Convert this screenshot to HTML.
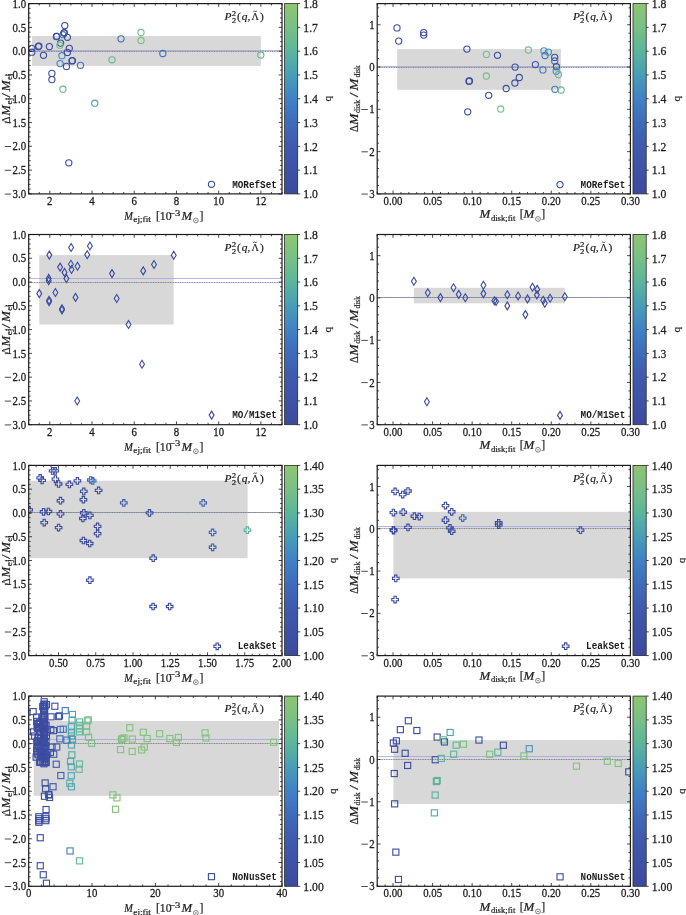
<!DOCTYPE html>
<html><head><meta charset="utf-8"><title>Fit residuals</title>
<style>
html,body{margin:0;padding:0;background:#fff;}
body{width:686px;height:915px;overflow:hidden;font-family:"Liberation Serif",serif;}
svg{display:block;will-change:transform;}
svg text{font-family:"Liberation Serif",serif;fill:#1c1c1c;}
.tl text{font-size:10.8px;stroke:#1c1c1c;stroke-width:0.25px;}
.cl text{font-size:11.7px;}
.ql{font-size:11.2px;stroke:#1c1c1c;stroke-width:0.2px;}
.ti text{font-size:11.4px;stroke:#1c1c1c;stroke-width:0.2px;}
.xl text{font-size:11.8px;stroke:#1c1c1c;stroke-width:0.2px;}
.ti text.sub{font-size:7.4px;text-rendering:geometricPrecision;}
.xl text.sub{font-size:7.8px;}
.yl text{font-size:12.4px;}
.yl text.sub{font-size:8.2px;}
svg text.lg{font-family:"Liberation Mono",monospace;font-weight:bold;font-size:9.6px;}
</style></head><body>
<svg width="686" height="915" viewBox="0 0 686 915">
<defs><linearGradient id="cb" x1="0" y1="1" x2="0" y2="0">
<stop offset="0.0" stop-color="#3c4a9e"/>
<stop offset="0.25" stop-color="#3f5aae"/>
<stop offset="0.375" stop-color="#3f6bbb"/>
<stop offset="0.5" stop-color="#4181c6"/>
<stop offset="0.625" stop-color="#479eb7"/>
<stop offset="0.75" stop-color="#5cb59b"/>
<stop offset="0.875" stop-color="#78c085"/>
<stop offset="1.0" stop-color="#8ec671"/>
</linearGradient>
<clipPath id="c00"><rect x="28.7" y="3.6" width="253.3" height="190.3"/></clipPath>
<clipPath id="c01"><rect x="377.2" y="3.6" width="253.2" height="190.3"/></clipPath>
<clipPath id="c10"><rect x="28.7" y="234.5" width="253.3" height="190.2"/></clipPath>
<clipPath id="c11"><rect x="377.2" y="234.5" width="253.2" height="190.2"/></clipPath>
<clipPath id="c20"><rect x="28.7" y="465.4" width="253.3" height="190.2"/></clipPath>
<clipPath id="c21"><rect x="377.2" y="465.4" width="253.2" height="190.2"/></clipPath>
<clipPath id="c30"><rect x="28.7" y="696.1" width="253.3" height="190.2"/></clipPath>
<clipPath id="c31"><rect x="377.2" y="696.1" width="253.2" height="190.2"/></clipPath>
</defs>
<rect width="686" height="915" fill="#fff"/>
<g id="p00">
<g clip-path="url(#c00)">
<rect x="32.1" y="36.1" width="228.7" height="29.8" fill="#d8d8d8"/>
<line x1="28.7" x2="282.0" y1="50.50" y2="50.50" stroke="#a0a7df" stroke-width="0.8"/>
<line x1="28.7" x2="282.0" y1="51.50" y2="51.50" stroke="#777" stroke-width="0.8" stroke-dasharray="1.2 0.5"/>
<g fill="none" stroke-width="1.12">
<circle cx="31.8" cy="48.4" r="3.1" stroke="#3c4da1"/>
<circle cx="31.8" cy="52.2" r="3.1" stroke="#3c4da1"/>
<circle cx="38.4" cy="46.5" r="3.1" stroke="#3c4da1"/>
<circle cx="38.9" cy="46.1" r="3.1" stroke="#3c4da1"/>
<circle cx="43.5" cy="55.3" r="3.1" stroke="#3c4da1"/>
<circle cx="49.4" cy="46.6" r="3.1" stroke="#3c4da1"/>
<circle cx="51.9" cy="73.4" r="3.1" stroke="#3c4da1"/>
<circle cx="51.9" cy="79.6" r="3.1" stroke="#3c4da1"/>
<circle cx="56.4" cy="36.5" r="3.1" stroke="#3c4da1"/>
<circle cx="56.8" cy="36.3" r="3.1" stroke="#3c4da1"/>
<circle cx="63.1" cy="34.7" r="3.1" stroke="#4181c6"/>
<circle cx="60.6" cy="43.1" r="3.1" stroke="#3c4da1"/>
<circle cx="59.9" cy="45.2" r="3.1" stroke="#72be89"/>
<circle cx="61.9" cy="55.7" r="3.1" stroke="#438dc0"/>
<circle cx="60.1" cy="63.6" r="3.1" stroke="#4181c6"/>
<circle cx="62.9" cy="89.2" r="3.1" stroke="#67b992"/>
<circle cx="64.8" cy="25.6" r="3.1" stroke="#3c4da1"/>
<circle cx="64.0" cy="33.1" r="3.1" stroke="#3c4da1"/>
<circle cx="64.3" cy="32.6" r="3.1" stroke="#3c4da1"/>
<circle cx="67.4" cy="37.3" r="3.1" stroke="#3c4da1"/>
<circle cx="69.3" cy="48.3" r="3.1" stroke="#3c4da1"/>
<circle cx="67.4" cy="52.4" r="3.1" stroke="#3c4da1"/>
<circle cx="66.5" cy="66.4" r="3.1" stroke="#3c4da1"/>
<circle cx="72.0" cy="60.9" r="3.1" stroke="#3c4da1"/>
<circle cx="72.4" cy="60.6" r="3.1" stroke="#3c4da1"/>
<circle cx="80.5" cy="65.3" r="3.1" stroke="#4073bf"/>
<circle cx="94.8" cy="103.2" r="3.1" stroke="#4ba3b1"/>
<circle cx="112.0" cy="59.8" r="3.1" stroke="#67b992"/>
<circle cx="121.0" cy="38.8" r="3.1" stroke="#4073bf"/>
<circle cx="141.0" cy="32.5" r="3.1" stroke="#79c084"/>
<circle cx="141.0" cy="40.5" r="3.1" stroke="#79c084"/>
<circle cx="162.8" cy="53.5" r="3.1" stroke="#4073bf"/>
<circle cx="260.8" cy="55.0" r="3.1" stroke="#67b992"/>
<circle cx="68.8" cy="162.8" r="3.1" stroke="#3d50a4"/>
<circle cx="211.5" cy="184.3" r="3.1" stroke="#3c4ca0"/>
</g></g>
<path d="M28.70 193.9v-1.9M28.70 3.6v1.9M39.25 193.9v-1.9M39.25 3.6v1.9M49.81 193.9v-3.3M49.81 3.6v3.3M60.36 193.9v-1.9M60.36 3.6v1.9M70.92 193.9v-1.9M70.92 3.6v1.9M81.47 193.9v-1.9M81.47 3.6v1.9M92.03 193.9v-3.3M92.03 3.6v3.3M102.58 193.9v-1.9M102.58 3.6v1.9M113.13 193.9v-1.9M113.13 3.6v1.9M123.69 193.9v-1.9M123.69 3.6v1.9M134.24 193.9v-3.3M134.24 3.6v3.3M144.80 193.9v-1.9M144.80 3.6v1.9M155.35 193.9v-1.9M155.35 3.6v1.9M165.90 193.9v-1.9M165.90 3.6v1.9M176.46 193.9v-3.3M176.46 3.6v3.3M187.01 193.9v-1.9M187.01 3.6v1.9M197.57 193.9v-1.9M197.57 3.6v1.9M208.12 193.9v-1.9M208.12 3.6v1.9M218.68 193.9v-3.3M218.68 3.6v3.3M229.23 193.9v-1.9M229.23 3.6v1.9M239.78 193.9v-1.9M239.78 3.6v1.9M250.34 193.9v-1.9M250.34 3.6v1.9M260.89 193.9v-3.3M260.89 3.6v3.3M271.45 193.9v-1.9M271.45 3.6v1.9M282.00 193.9v-1.9M282.00 3.6v1.9M28.7 193.90h3.3M282.0 193.90h-3.3M28.7 189.14h1.9M282.0 189.14h-1.9M28.7 184.39h1.9M282.0 184.39h-1.9M28.7 179.63h1.9M282.0 179.63h-1.9M28.7 174.87h1.9M282.0 174.87h-1.9M28.7 170.11h3.3M282.0 170.11h-3.3M28.7 165.36h1.9M282.0 165.36h-1.9M28.7 160.60h1.9M282.0 160.60h-1.9M28.7 155.84h1.9M282.0 155.84h-1.9M28.7 151.08h1.9M282.0 151.08h-1.9M28.7 146.32h3.3M282.0 146.32h-3.3M28.7 141.57h1.9M282.0 141.57h-1.9M28.7 136.81h1.9M282.0 136.81h-1.9M28.7 132.05h1.9M282.0 132.05h-1.9M28.7 127.30h1.9M282.0 127.30h-1.9M28.7 122.54h3.3M282.0 122.54h-3.3M28.7 117.78h1.9M282.0 117.78h-1.9M28.7 113.02h1.9M282.0 113.02h-1.9M28.7 108.27h1.9M282.0 108.27h-1.9M28.7 103.51h1.9M282.0 103.51h-1.9M28.7 98.75h3.3M282.0 98.75h-3.3M28.7 93.99h1.9M282.0 93.99h-1.9M28.7 89.23h1.9M282.0 89.23h-1.9M28.7 84.48h1.9M282.0 84.48h-1.9M28.7 79.72h1.9M282.0 79.72h-1.9M28.7 74.96h3.3M282.0 74.96h-3.3M28.7 70.20h1.9M282.0 70.20h-1.9M28.7 65.45h1.9M282.0 65.45h-1.9M28.7 60.69h1.9M282.0 60.69h-1.9M28.7 55.93h1.9M282.0 55.93h-1.9M28.7 51.17h3.3M282.0 51.17h-3.3M28.7 46.42h1.9M282.0 46.42h-1.9M28.7 41.66h1.9M282.0 41.66h-1.9M28.7 36.90h1.9M282.0 36.90h-1.9M28.7 32.15h1.9M282.0 32.15h-1.9M28.7 27.39h3.3M282.0 27.39h-3.3M28.7 22.63h1.9M282.0 22.63h-1.9M28.7 17.87h1.9M282.0 17.87h-1.9M28.7 13.12h1.9M282.0 13.12h-1.9M28.7 8.36h1.9M282.0 8.36h-1.9M28.7 3.60h3.3M282.0 3.60h-3.3" stroke="#1c1c1c" stroke-width="0.8" fill="none"/>
<rect x="28.7" y="3.6" width="253.3" height="190.3" fill="none" stroke="#1c1c1c" stroke-width="1.2"/>
<g class="tl">
<text transform="translate(49.8 204.8) scale(1 1.14)" text-anchor="middle">2</text>
<text transform="translate(92.0 204.8) scale(1 1.14)" text-anchor="middle">4</text>
<text transform="translate(134.2 204.8) scale(1 1.14)" text-anchor="middle">6</text>
<text transform="translate(176.5 204.8) scale(1 1.14)" text-anchor="middle">8</text>
<text transform="translate(218.7 204.8) scale(1 1.14)" text-anchor="middle">10</text>
<text transform="translate(260.9 204.8) scale(1 1.14)" text-anchor="middle">12</text>
<text transform="translate(26.1 198.0) scale(1 1.14)" text-anchor="end">3.0</text>
<line x1="4.8" x2="11.2" y1="194.1" y2="194.1" stroke="#1c1c1c" stroke-width="0.8"/>
<text transform="translate(26.1 174.2) scale(1 1.14)" text-anchor="end">2.5</text>
<line x1="4.8" x2="11.2" y1="170.3" y2="170.3" stroke="#1c1c1c" stroke-width="0.8"/>
<text transform="translate(26.1 150.4) scale(1 1.14)" text-anchor="end">2.0</text>
<line x1="4.8" x2="11.2" y1="146.5" y2="146.5" stroke="#1c1c1c" stroke-width="0.8"/>
<text transform="translate(26.1 126.6) scale(1 1.14)" text-anchor="end">1.5</text>
<line x1="4.8" x2="11.2" y1="122.7" y2="122.7" stroke="#1c1c1c" stroke-width="0.8"/>
<text transform="translate(26.1 102.8) scale(1 1.14)" text-anchor="end">1.0</text>
<line x1="4.8" x2="11.2" y1="99.0" y2="99.0" stroke="#1c1c1c" stroke-width="0.8"/>
<text transform="translate(26.1 79.1) scale(1 1.14)" text-anchor="end">0.5</text>
<line x1="4.8" x2="11.2" y1="75.2" y2="75.2" stroke="#1c1c1c" stroke-width="0.8"/>
<text transform="translate(26.1 55.3) scale(1 1.14)" text-anchor="end">0.0</text>
<text transform="translate(26.1 31.5) scale(1 1.14)" text-anchor="end">0.5</text>
<text transform="translate(26.1 7.7) scale(1 1.14)" text-anchor="end">1.0</text>
</g>
<rect x="284.6" y="3.6" width="13.1" height="190.3" fill="url(#cb)" stroke="#2a2a2a" stroke-width="0.8"/>
<g class="tl cl">
<text transform="translate(303.3 198.1) scale(1 1.08)">1.0</text>
<text transform="translate(303.3 174.3) scale(1 1.08)">1.1</text>
<text transform="translate(303.3 150.5) scale(1 1.08)">1.2</text>
<text transform="translate(303.3 126.7) scale(1 1.08)">1.3</text>
<text transform="translate(303.3 103.0) scale(1 1.08)">1.4</text>
<text transform="translate(303.3 79.2) scale(1 1.08)">1.5</text>
<text transform="translate(303.3 55.4) scale(1 1.08)">1.6</text>
<text transform="translate(303.3 31.6) scale(1 1.08)">1.7</text>
<text transform="translate(303.3 7.8) scale(1 1.08)">1.8</text>
</g>
<path d="M297.7 193.90h2.5M297.7 170.11h2.5M297.7 146.33h2.5M297.7 122.54h2.5M297.7 98.75h2.5M297.7 74.96h2.5M297.7 51.17h2.5M297.7 27.39h2.5M297.7 3.60h2.5" stroke="#1c1c1c" stroke-width="0.8" fill="none"/>
<text class="ql" transform="translate(331.0 98.8) rotate(-90)" text-anchor="middle">q</text>
<g class="ti"><text x="224.6" y="19.9" font-style="italic">P</text><text class="sub" x="231.7" y="15.8" textLength="4.4" lengthAdjust="spacingAndGlyphs">2</text><text class="sub" x="231.7" y="22.7" textLength="4.4" lengthAdjust="spacingAndGlyphs">2</text><text x="237.0" y="19.9">(</text><text x="241.8" y="19.9" font-style="italic">q</text><text x="247.4" y="19.9">,</text><text x="251.6" y="19.9" textLength="7.4" lengthAdjust="spacingAndGlyphs">Λ</text><path d="M253.3 11.9q0.9 -1.3 1.8 -0.5t1.8 -0.5" fill="none" stroke="#1c1c1c" stroke-width="0.8"/><text x="260.0" y="19.9">)</text></g>
<text class="lg" transform="translate(276.8 187.6) scale(1 1.2)" text-anchor="end" textLength="44.6" lengthAdjust="spacingAndGlyphs">MORefSet</text>
<g class="xl"><text x="124.3" y="219.9" font-style="italic" textLength="8.6" lengthAdjust="spacingAndGlyphs">M</text><text class="sub" x="133.3" y="222.2" textLength="17.6" lengthAdjust="spacingAndGlyphs">ej;fit</text><text x="155.9" y="219.9">[10</text><text class="sub" x="168.9" y="215.5" textLength="11.4" lengthAdjust="spacingAndGlyphs">−3</text><text x="181.5" y="219.9" font-style="italic" textLength="10.6" lengthAdjust="spacingAndGlyphs">M</text><circle cx="195.9" cy="220.5" r="2.4" fill="none" stroke="#1c1c1c" stroke-width="0.55"/><circle cx="195.9" cy="220.5" r="0.6" fill="#1c1c1c"/><text x="199.5" y="219.9">]</text></g>
<g class="xl yl" transform="translate(10.0 100.0) rotate(-90)"><text x="-23.5" y="0" textLength="7.0" lengthAdjust="spacingAndGlyphs">Δ</text><text x="-15.8" y="0" font-style="italic" textLength="10.6" lengthAdjust="spacingAndGlyphs">M</text><text class="sub" x="-4.5" y="2.4" textLength="6.8" lengthAdjust="spacingAndGlyphs">ej</text><text x="2.6" y="0" textLength="4.6" lengthAdjust="spacingAndGlyphs">/</text><text x="8.8" y="0" font-style="italic" textLength="10.8" lengthAdjust="spacingAndGlyphs">M</text><text class="sub" x="20.0" y="2.4" textLength="6.4" lengthAdjust="spacingAndGlyphs">ej</text></g>
</g>
<g id="p01">
<g clip-path="url(#c01)">
<rect x="397.2" y="49.1" width="163.7" height="40.7" fill="#d8d8d8"/>
<line x1="377.2" x2="630.4" y1="66.50" y2="66.50" stroke="#a0a7df" stroke-width="0.8"/>
<line x1="377.2" x2="630.4" y1="67.50" y2="67.50" stroke="#777" stroke-width="0.8" stroke-dasharray="1.2 0.5"/>
<g fill="none" stroke-width="1.12">
<circle cx="397.0" cy="27.9" r="3.1" stroke="#3c4da1"/>
<circle cx="398.7" cy="41.1" r="3.1" stroke="#3c4da1"/>
<circle cx="423.7" cy="32.6" r="3.1" stroke="#3c4da1"/>
<circle cx="423.7" cy="35.1" r="3.1" stroke="#3c4da1"/>
<circle cx="466.9" cy="49.1" r="3.1" stroke="#3c4da1"/>
<circle cx="486.4" cy="54.4" r="3.1" stroke="#72be89"/>
<circle cx="497.5" cy="55.3" r="3.1" stroke="#3c4da1"/>
<circle cx="469.0" cy="81.2" r="3.1" stroke="#3c4da1"/>
<circle cx="469.4" cy="81.0" r="3.1" stroke="#3c4da1"/>
<circle cx="486.4" cy="76.0" r="3.1" stroke="#72be89"/>
<circle cx="488.7" cy="95.3" r="3.1" stroke="#3c4da1"/>
<circle cx="467.7" cy="111.8" r="3.1" stroke="#3c4da1"/>
<circle cx="500.7" cy="109.0" r="3.1" stroke="#72be89"/>
<circle cx="506.2" cy="88.5" r="3.1" stroke="#3c4da1"/>
<circle cx="515.1" cy="67.1" r="3.1" stroke="#3c4da1"/>
<circle cx="514.9" cy="83.0" r="3.1" stroke="#3c4da1"/>
<circle cx="519.3" cy="77.5" r="3.1" stroke="#3c4da1"/>
<circle cx="528.4" cy="50.0" r="3.1" stroke="#72be89"/>
<circle cx="535.4" cy="64.6" r="3.1" stroke="#3e57ab"/>
<circle cx="542.9" cy="69.9" r="3.1" stroke="#4078c2"/>
<circle cx="543.9" cy="50.8" r="3.1" stroke="#4698ba"/>
<circle cx="545.0" cy="55.5" r="3.1" stroke="#4078c2"/>
<circle cx="548.4" cy="52.1" r="3.1" stroke="#438dc0"/>
<circle cx="554.7" cy="57.4" r="3.1" stroke="#3c4da1"/>
<circle cx="554.7" cy="61.0" r="3.1" stroke="#3f6fbd"/>
<circle cx="556.4" cy="66.7" r="3.1" stroke="#3c4da1"/>
<circle cx="556.2" cy="71.3" r="3.1" stroke="#438dc0"/>
<circle cx="558.5" cy="74.5" r="3.1" stroke="#67b992"/>
<circle cx="554.9" cy="89.3" r="3.1" stroke="#4078c2"/>
<circle cx="561.1" cy="90.0" r="3.1" stroke="#67b992"/>
<circle cx="560.0" cy="184.6" r="3.1" stroke="#3c4ca0"/>
</g></g>
<path d="M377.20 193.9v-1.9M377.20 3.6v1.9M385.11 193.9v-1.9M385.11 3.6v1.9M393.02 193.9v-3.3M393.02 3.6v3.3M400.94 193.9v-1.9M400.94 3.6v1.9M408.85 193.9v-1.9M408.85 3.6v1.9M416.76 193.9v-1.9M416.76 3.6v1.9M424.67 193.9v-1.9M424.67 3.6v1.9M432.59 193.9v-3.3M432.59 3.6v3.3M440.50 193.9v-1.9M440.50 3.6v1.9M448.41 193.9v-1.9M448.41 3.6v1.9M456.32 193.9v-1.9M456.32 3.6v1.9M464.24 193.9v-1.9M464.24 3.6v1.9M472.15 193.9v-3.3M472.15 3.6v3.3M480.06 193.9v-1.9M480.06 3.6v1.9M487.97 193.9v-1.9M487.97 3.6v1.9M495.89 193.9v-1.9M495.89 3.6v1.9M503.80 193.9v-1.9M503.80 3.6v1.9M511.71 193.9v-3.3M511.71 3.6v3.3M519.62 193.9v-1.9M519.62 3.6v1.9M527.54 193.9v-1.9M527.54 3.6v1.9M535.45 193.9v-1.9M535.45 3.6v1.9M543.36 193.9v-1.9M543.36 3.6v1.9M551.27 193.9v-3.3M551.27 3.6v3.3M559.19 193.9v-1.9M559.19 3.6v1.9M567.10 193.9v-1.9M567.10 3.6v1.9M575.01 193.9v-1.9M575.01 3.6v1.9M582.92 193.9v-1.9M582.92 3.6v1.9M590.84 193.9v-3.3M590.84 3.6v3.3M598.75 193.9v-1.9M598.75 3.6v1.9M606.66 193.9v-1.9M606.66 3.6v1.9M614.58 193.9v-1.9M614.58 3.6v1.9M622.49 193.9v-1.9M622.49 3.6v1.9M630.40 193.9v-3.3M630.40 3.6v3.3M377.2 193.90h3.3M630.4 193.90h-3.3M377.2 185.44h1.9M630.4 185.44h-1.9M377.2 176.98h1.9M630.4 176.98h-1.9M377.2 168.53h1.9M630.4 168.53h-1.9M377.2 160.07h1.9M630.4 160.07h-1.9M377.2 151.61h3.3M630.4 151.61h-3.3M377.2 143.15h1.9M630.4 143.15h-1.9M377.2 134.70h1.9M630.4 134.70h-1.9M377.2 126.24h1.9M630.4 126.24h-1.9M377.2 117.78h1.9M630.4 117.78h-1.9M377.2 109.32h3.3M630.4 109.32h-3.3M377.2 100.86h1.9M630.4 100.86h-1.9M377.2 92.41h1.9M630.4 92.41h-1.9M377.2 83.95h1.9M630.4 83.95h-1.9M377.2 75.49h1.9M630.4 75.49h-1.9M377.2 67.03h3.3M630.4 67.03h-3.3M377.2 58.58h1.9M630.4 58.58h-1.9M377.2 50.12h1.9M630.4 50.12h-1.9M377.2 41.66h1.9M630.4 41.66h-1.9M377.2 33.20h1.9M630.4 33.20h-1.9M377.2 24.74h3.3M630.4 24.74h-3.3M377.2 16.29h1.9M630.4 16.29h-1.9M377.2 7.83h1.9M630.4 7.83h-1.9" stroke="#1c1c1c" stroke-width="0.8" fill="none"/>
<rect x="377.2" y="3.6" width="253.2" height="190.3" fill="none" stroke="#1c1c1c" stroke-width="1.2"/>
<g class="tl">
<text transform="translate(393.0 204.8) scale(1 1.14)" text-anchor="middle">0.00</text>
<text transform="translate(432.6 204.8) scale(1 1.14)" text-anchor="middle">0.05</text>
<text transform="translate(472.1 204.8) scale(1 1.14)" text-anchor="middle">0.10</text>
<text transform="translate(511.7 204.8) scale(1 1.14)" text-anchor="middle">0.15</text>
<text transform="translate(551.3 204.8) scale(1 1.14)" text-anchor="middle">0.20</text>
<text transform="translate(590.8 204.8) scale(1 1.14)" text-anchor="middle">0.25</text>
<text transform="translate(630.4 204.8) scale(1 1.14)" text-anchor="middle">0.30</text>
<text transform="translate(374.6 198.0) scale(1 1.14)" text-anchor="end">3</text>
<line x1="361.4" x2="367.8" y1="194.1" y2="194.1" stroke="#1c1c1c" stroke-width="0.8"/>
<text transform="translate(374.6 155.7) scale(1 1.14)" text-anchor="end">2</text>
<line x1="361.4" x2="367.8" y1="151.8" y2="151.8" stroke="#1c1c1c" stroke-width="0.8"/>
<text transform="translate(374.6 113.4) scale(1 1.14)" text-anchor="end">1</text>
<line x1="361.4" x2="367.8" y1="109.5" y2="109.5" stroke="#1c1c1c" stroke-width="0.8"/>
<text transform="translate(374.6 71.1) scale(1 1.14)" text-anchor="end">0</text>
<text transform="translate(374.6 28.8) scale(1 1.14)" text-anchor="end">1</text>
</g>
<rect x="633.0" y="3.6" width="13.2" height="190.3" fill="url(#cb)" stroke="#2a2a2a" stroke-width="0.8"/>
<g class="tl cl">
<text transform="translate(651.8 198.1) scale(1 1.08)">1.0</text>
<text transform="translate(651.8 174.3) scale(1 1.08)">1.1</text>
<text transform="translate(651.8 150.5) scale(1 1.08)">1.2</text>
<text transform="translate(651.8 126.7) scale(1 1.08)">1.3</text>
<text transform="translate(651.8 103.0) scale(1 1.08)">1.4</text>
<text transform="translate(651.8 79.2) scale(1 1.08)">1.5</text>
<text transform="translate(651.8 55.4) scale(1 1.08)">1.6</text>
<text transform="translate(651.8 31.6) scale(1 1.08)">1.7</text>
<text transform="translate(651.8 7.8) scale(1 1.08)">1.8</text>
</g>
<path d="M646.2 193.90h2.5M646.2 170.11h2.5M646.2 146.33h2.5M646.2 122.54h2.5M646.2 98.75h2.5M646.2 74.96h2.5M646.2 51.17h2.5M646.2 27.39h2.5M646.2 3.60h2.5" stroke="#1c1c1c" stroke-width="0.8" fill="none"/>
<text class="ql" transform="translate(679.5 98.8) rotate(-90)" text-anchor="middle">q</text>
<g class="ti"><text x="573.0" y="19.9" font-style="italic">P</text><text class="sub" x="580.1" y="15.8" textLength="4.4" lengthAdjust="spacingAndGlyphs">2</text><text class="sub" x="580.1" y="22.7" textLength="4.4" lengthAdjust="spacingAndGlyphs">2</text><text x="585.4" y="19.9">(</text><text x="590.2" y="19.9" font-style="italic">q</text><text x="595.8" y="19.9">,</text><text x="600.0" y="19.9" textLength="7.4" lengthAdjust="spacingAndGlyphs">Λ</text><path d="M601.7 11.9q0.9 -1.3 1.8 -0.5t1.8 -0.5" fill="none" stroke="#1c1c1c" stroke-width="0.8"/><text x="608.4" y="19.9">)</text></g>
<text class="lg" transform="translate(625.2 187.6) scale(1 1.2)" text-anchor="end" textLength="44.6" lengthAdjust="spacingAndGlyphs">MORefSet</text>
<g class="xl"><text x="479.6" y="218.4" font-style="italic" textLength="10.8" lengthAdjust="spacingAndGlyphs">M</text><text class="sub" x="490.9" y="220.7" textLength="24.4" lengthAdjust="spacingAndGlyphs">disk;fit</text><text x="519.8" y="218.4">[</text><text x="523.4" y="218.4" font-style="italic" textLength="10.8" lengthAdjust="spacingAndGlyphs">M</text><circle cx="538.0" cy="219.0" r="2.4" fill="none" stroke="#1c1c1c" stroke-width="0.55"/><circle cx="538.0" cy="219.0" r="0.6" fill="#1c1c1c"/><text x="541.2" y="218.4">]</text></g>
<g class="xl yl" transform="translate(357.6 98.5) rotate(-90)"><text x="-33.5" y="0" textLength="6.8" lengthAdjust="spacingAndGlyphs">Δ</text><text x="-26.4" y="0" font-style="italic" textLength="11.4" lengthAdjust="spacingAndGlyphs">M</text><text class="sub" x="-14.4" y="2.4" textLength="13.0" lengthAdjust="spacingAndGlyphs">disk</text><text x="1.2" y="0" textLength="4.8" lengthAdjust="spacingAndGlyphs">/</text><text x="8.0" y="0" font-style="italic" textLength="11.8" lengthAdjust="spacingAndGlyphs">M</text><text class="sub" x="21.0" y="2.4" textLength="12.2" lengthAdjust="spacingAndGlyphs">disk</text></g>
</g>
<g id="p10">
<g clip-path="url(#c10)">
<rect x="39.3" y="255.1" width="134.4" height="69.4" fill="#d8d8d8"/>
<line x1="28.7" x2="282.0" y1="278.50" y2="278.50" stroke="#a0a7df" stroke-width="0.8"/>
<line x1="28.7" x2="282.0" y1="282.50" y2="282.50" stroke="#777" stroke-width="0.8" stroke-dasharray="1.2 0.5"/>
<g fill="none" stroke-width="1.12">
<path d="M39.3 289.6l2.45 4.0l-2.45 4.0l-2.45 -4.0z" stroke="#3c4da1"/>
<path d="M49.3 251.1l2.45 4.0l-2.45 4.0l-2.45 -4.0z" stroke="#3c4da1"/>
<path d="M48.7 274.4l2.45 4.0l-2.45 4.0l-2.45 -4.0z" stroke="#3c4da1"/>
<path d="M48.7 276.7l2.45 4.0l-2.45 4.0l-2.45 -4.0z" stroke="#3c4da1"/>
<path d="M49.1 296.2l2.45 4.0l-2.45 4.0l-2.45 -4.0z" stroke="#3c4da1"/>
<path d="M49.1 297.7l2.45 4.0l-2.45 4.0l-2.45 -4.0z" stroke="#3c4da1"/>
<path d="M55.4 288.5l2.45 4.0l-2.45 4.0l-2.45 -4.0z" stroke="#3c4da1"/>
<path d="M60.1 263.1l2.45 4.0l-2.45 4.0l-2.45 -4.0z" stroke="#3c4da1"/>
<path d="M62.0 304.7l2.45 4.0l-2.45 4.0l-2.45 -4.0z" stroke="#3c4da1"/>
<path d="M62.0 306.0l2.45 4.0l-2.45 4.0l-2.45 -4.0z" stroke="#3c4da1"/>
<path d="M64.5 268.4l2.45 4.0l-2.45 4.0l-2.45 -4.0z" stroke="#3c4da1"/>
<path d="M66.4 274.6l2.45 4.0l-2.45 4.0l-2.45 -4.0z" stroke="#3c4da1"/>
<path d="M71.1 243.5l2.45 4.0l-2.45 4.0l-2.45 -4.0z" stroke="#3c4da1"/>
<path d="M70.9 260.2l2.45 4.0l-2.45 4.0l-2.45 -4.0z" stroke="#3f5aae"/>
<path d="M71.5 265.5l2.45 4.0l-2.45 4.0l-2.45 -4.0z" stroke="#3c4da1"/>
<path d="M77.5 262.3l2.45 4.0l-2.45 4.0l-2.45 -4.0z" stroke="#3c4da1"/>
<path d="M75.5 293.4l2.45 4.0l-2.45 4.0l-2.45 -4.0z" stroke="#3c4da1"/>
<path d="M87.2 250.7l2.45 4.0l-2.45 4.0l-2.45 -4.0z" stroke="#3c4da1"/>
<path d="M89.9 242.0l2.45 4.0l-2.45 4.0l-2.45 -4.0z" stroke="#3c4da1"/>
<path d="M112.0 269.6l2.45 4.0l-2.45 4.0l-2.45 -4.0z" stroke="#3c4da1"/>
<path d="M116.7 294.5l2.45 4.0l-2.45 4.0l-2.45 -4.0z" stroke="#3c4da1"/>
<path d="M128.5 320.5l2.45 4.0l-2.45 4.0l-2.45 -4.0z" stroke="#3c4da1"/>
<path d="M143.2 266.9l2.45 4.0l-2.45 4.0l-2.45 -4.0z" stroke="#3c4da1"/>
<path d="M154.0 260.5l2.45 4.0l-2.45 4.0l-2.45 -4.0z" stroke="#3c4da1"/>
<path d="M173.7 251.3l2.45 4.0l-2.45 4.0l-2.45 -4.0z" stroke="#3c4da1"/>
<path d="M142.0 360.2l2.45 4.0l-2.45 4.0l-2.45 -4.0z" stroke="#3c4da1"/>
<path d="M77.2 397.0l2.45 4.0l-2.45 4.0l-2.45 -4.0z" stroke="#3c4da1"/>
<path d="M211.6 411.1l2.45 4.0l-2.45 4.0l-2.45 -4.0z" stroke="#3c4ca0"/>
</g></g>
<path d="M28.70 424.7v-1.9M28.70 234.5v1.9M39.25 424.7v-1.9M39.25 234.5v1.9M49.81 424.7v-3.3M49.81 234.5v3.3M60.36 424.7v-1.9M60.36 234.5v1.9M70.92 424.7v-1.9M70.92 234.5v1.9M81.47 424.7v-1.9M81.47 234.5v1.9M92.03 424.7v-3.3M92.03 234.5v3.3M102.58 424.7v-1.9M102.58 234.5v1.9M113.13 424.7v-1.9M113.13 234.5v1.9M123.69 424.7v-1.9M123.69 234.5v1.9M134.24 424.7v-3.3M134.24 234.5v3.3M144.80 424.7v-1.9M144.80 234.5v1.9M155.35 424.7v-1.9M155.35 234.5v1.9M165.90 424.7v-1.9M165.90 234.5v1.9M176.46 424.7v-3.3M176.46 234.5v3.3M187.01 424.7v-1.9M187.01 234.5v1.9M197.57 424.7v-1.9M197.57 234.5v1.9M208.12 424.7v-1.9M208.12 234.5v1.9M218.68 424.7v-3.3M218.68 234.5v3.3M229.23 424.7v-1.9M229.23 234.5v1.9M239.78 424.7v-1.9M239.78 234.5v1.9M250.34 424.7v-1.9M250.34 234.5v1.9M260.89 424.7v-3.3M260.89 234.5v3.3M271.45 424.7v-1.9M271.45 234.5v1.9M282.00 424.7v-1.9M282.00 234.5v1.9M28.7 424.70h3.3M282.0 424.70h-3.3M28.7 419.94h1.9M282.0 419.94h-1.9M28.7 415.19h1.9M282.0 415.19h-1.9M28.7 410.44h1.9M282.0 410.44h-1.9M28.7 405.68h1.9M282.0 405.68h-1.9M28.7 400.93h3.3M282.0 400.93h-3.3M28.7 396.17h1.9M282.0 396.17h-1.9M28.7 391.42h1.9M282.0 391.42h-1.9M28.7 386.66h1.9M282.0 386.66h-1.9M28.7 381.90h1.9M282.0 381.90h-1.9M28.7 377.15h3.3M282.0 377.15h-3.3M28.7 372.39h1.9M282.0 372.39h-1.9M28.7 367.64h1.9M282.0 367.64h-1.9M28.7 362.88h1.9M282.0 362.88h-1.9M28.7 358.13h1.9M282.0 358.13h-1.9M28.7 353.38h3.3M282.0 353.38h-3.3M28.7 348.62h1.9M282.0 348.62h-1.9M28.7 343.87h1.9M282.0 343.87h-1.9M28.7 339.11h1.9M282.0 339.11h-1.9M28.7 334.36h1.9M282.0 334.36h-1.9M28.7 329.60h3.3M282.0 329.60h-3.3M28.7 324.84h1.9M282.0 324.84h-1.9M28.7 320.09h1.9M282.0 320.09h-1.9M28.7 315.34h1.9M282.0 315.34h-1.9M28.7 310.58h1.9M282.0 310.58h-1.9M28.7 305.82h3.3M282.0 305.82h-3.3M28.7 301.07h1.9M282.0 301.07h-1.9M28.7 296.31h1.9M282.0 296.31h-1.9M28.7 291.56h1.9M282.0 291.56h-1.9M28.7 286.81h1.9M282.0 286.81h-1.9M28.7 282.05h3.3M282.0 282.05h-3.3M28.7 277.29h1.9M282.0 277.29h-1.9M28.7 272.54h1.9M282.0 272.54h-1.9M28.7 267.78h1.9M282.0 267.78h-1.9M28.7 263.03h1.9M282.0 263.03h-1.9M28.7 258.27h3.3M282.0 258.27h-3.3M28.7 253.52h1.9M282.0 253.52h-1.9M28.7 248.76h1.9M282.0 248.76h-1.9M28.7 244.01h1.9M282.0 244.01h-1.9M28.7 239.25h1.9M282.0 239.25h-1.9M28.7 234.50h3.3M282.0 234.50h-3.3" stroke="#1c1c1c" stroke-width="0.8" fill="none"/>
<rect x="28.7" y="234.5" width="253.3" height="190.2" fill="none" stroke="#1c1c1c" stroke-width="1.2"/>
<g class="tl">
<text transform="translate(49.8 435.6) scale(1 1.14)" text-anchor="middle">2</text>
<text transform="translate(92.0 435.6) scale(1 1.14)" text-anchor="middle">4</text>
<text transform="translate(134.2 435.6) scale(1 1.14)" text-anchor="middle">6</text>
<text transform="translate(176.5 435.6) scale(1 1.14)" text-anchor="middle">8</text>
<text transform="translate(218.7 435.6) scale(1 1.14)" text-anchor="middle">10</text>
<text transform="translate(260.9 435.6) scale(1 1.14)" text-anchor="middle">12</text>
<text transform="translate(26.1 428.8) scale(1 1.14)" text-anchor="end">3.0</text>
<line x1="4.8" x2="11.2" y1="424.9" y2="424.9" stroke="#1c1c1c" stroke-width="0.8"/>
<text transform="translate(26.1 405.0) scale(1 1.14)" text-anchor="end">2.5</text>
<line x1="4.8" x2="11.2" y1="401.1" y2="401.1" stroke="#1c1c1c" stroke-width="0.8"/>
<text transform="translate(26.1 381.2) scale(1 1.14)" text-anchor="end">2.0</text>
<line x1="4.8" x2="11.2" y1="377.3" y2="377.3" stroke="#1c1c1c" stroke-width="0.8"/>
<text transform="translate(26.1 357.5) scale(1 1.14)" text-anchor="end">1.5</text>
<line x1="4.8" x2="11.2" y1="353.6" y2="353.6" stroke="#1c1c1c" stroke-width="0.8"/>
<text transform="translate(26.1 333.7) scale(1 1.14)" text-anchor="end">1.0</text>
<line x1="4.8" x2="11.2" y1="329.8" y2="329.8" stroke="#1c1c1c" stroke-width="0.8"/>
<text transform="translate(26.1 309.9) scale(1 1.14)" text-anchor="end">0.5</text>
<line x1="4.8" x2="11.2" y1="306.0" y2="306.0" stroke="#1c1c1c" stroke-width="0.8"/>
<text transform="translate(26.1 286.2) scale(1 1.14)" text-anchor="end">0.0</text>
<text transform="translate(26.1 262.4) scale(1 1.14)" text-anchor="end">0.5</text>
<text transform="translate(26.1 238.6) scale(1 1.14)" text-anchor="end">1.0</text>
</g>
<rect x="284.6" y="234.5" width="13.1" height="190.2" fill="url(#cb)" stroke="#2a2a2a" stroke-width="0.8"/>
<g class="tl cl">
<text transform="translate(303.3 428.9) scale(1 1.08)">1.0</text>
<text transform="translate(303.3 405.1) scale(1 1.08)">1.1</text>
<text transform="translate(303.3 381.3) scale(1 1.08)">1.2</text>
<text transform="translate(303.3 357.6) scale(1 1.08)">1.3</text>
<text transform="translate(303.3 333.8) scale(1 1.08)">1.4</text>
<text transform="translate(303.3 310.0) scale(1 1.08)">1.5</text>
<text transform="translate(303.3 286.2) scale(1 1.08)">1.6</text>
<text transform="translate(303.3 262.5) scale(1 1.08)">1.7</text>
<text transform="translate(303.3 238.7) scale(1 1.08)">1.8</text>
</g>
<path d="M297.7 424.70h2.5M297.7 400.92h2.5M297.7 377.15h2.5M297.7 353.38h2.5M297.7 329.60h2.5M297.7 305.82h2.5M297.7 282.05h2.5M297.7 258.27h2.5M297.7 234.50h2.5" stroke="#1c1c1c" stroke-width="0.8" fill="none"/>
<text class="ql" transform="translate(331.0 329.6) rotate(-90)" text-anchor="middle">q</text>
<g class="ti"><text x="224.6" y="250.8" font-style="italic">P</text><text class="sub" x="231.7" y="246.7" textLength="4.4" lengthAdjust="spacingAndGlyphs">2</text><text class="sub" x="231.7" y="253.6" textLength="4.4" lengthAdjust="spacingAndGlyphs">2</text><text x="237.0" y="250.8">(</text><text x="241.8" y="250.8" font-style="italic">q</text><text x="247.4" y="250.8">,</text><text x="251.6" y="250.8" textLength="7.4" lengthAdjust="spacingAndGlyphs">Λ</text><path d="M253.3 242.8q0.9 -1.3 1.8 -0.5t1.8 -0.5" fill="none" stroke="#1c1c1c" stroke-width="0.8"/><text x="260.0" y="250.8">)</text></g>
<text class="lg" transform="translate(276.8 418.4) scale(1 1.2)" text-anchor="end" textLength="44.6" lengthAdjust="spacingAndGlyphs">MO/M1Set</text>
<g class="xl"><text x="124.3" y="450.7" font-style="italic" textLength="8.6" lengthAdjust="spacingAndGlyphs">M</text><text class="sub" x="133.3" y="453.0" textLength="17.6" lengthAdjust="spacingAndGlyphs">ej;fit</text><text x="155.9" y="450.7">[10</text><text class="sub" x="168.9" y="446.3" textLength="11.4" lengthAdjust="spacingAndGlyphs">−3</text><text x="181.5" y="450.7" font-style="italic" textLength="10.6" lengthAdjust="spacingAndGlyphs">M</text><circle cx="195.9" cy="451.3" r="2.4" fill="none" stroke="#1c1c1c" stroke-width="0.55"/><circle cx="195.9" cy="451.3" r="0.6" fill="#1c1c1c"/><text x="199.5" y="450.7">]</text></g>
<g class="xl yl" transform="translate(10.0 330.8) rotate(-90)"><text x="-23.5" y="0" textLength="7.0" lengthAdjust="spacingAndGlyphs">Δ</text><text x="-15.8" y="0" font-style="italic" textLength="10.6" lengthAdjust="spacingAndGlyphs">M</text><text class="sub" x="-4.5" y="2.4" textLength="6.8" lengthAdjust="spacingAndGlyphs">ej</text><text x="2.6" y="0" textLength="4.6" lengthAdjust="spacingAndGlyphs">/</text><text x="8.8" y="0" font-style="italic" textLength="10.8" lengthAdjust="spacingAndGlyphs">M</text><text class="sub" x="20.0" y="2.4" textLength="6.4" lengthAdjust="spacingAndGlyphs">ej</text></g>
</g>
<g id="p11">
<g clip-path="url(#c11)">
<rect x="413.9" y="287.8" width="150.9" height="15.5" fill="#d8d8d8"/>
<line x1="377.2" x2="630.4" y1="297.50" y2="297.50" stroke="#a0a7df" stroke-width="0.8"/>
<line x1="377.2" x2="630.4" y1="297.50" y2="297.50" stroke="#777" stroke-width="0.8" stroke-dasharray="1.2 0.5"/>
<g fill="none" stroke-width="1.12">
<path d="M413.9 277.3l2.45 4.0l-2.45 4.0l-2.45 -4.0z" stroke="#3c4da1"/>
<path d="M427.8 288.8l2.45 4.0l-2.45 4.0l-2.45 -4.0z" stroke="#3c4da1"/>
<path d="M440.4 293.6l2.45 4.0l-2.45 4.0l-2.45 -4.0z" stroke="#3c4da1"/>
<path d="M453.5 283.8l2.45 4.0l-2.45 4.0l-2.45 -4.0z" stroke="#3c4da1"/>
<path d="M458.7 290.4l2.45 4.0l-2.45 4.0l-2.45 -4.0z" stroke="#3c4da1"/>
<path d="M465.3 293.8l2.45 4.0l-2.45 4.0l-2.45 -4.0z" stroke="#3c4da1"/>
<path d="M483.4 281.2l2.45 4.0l-2.45 4.0l-2.45 -4.0z" stroke="#3c4da1"/>
<path d="M483.4 289.6l2.45 4.0l-2.45 4.0l-2.45 -4.0z" stroke="#3c4da1"/>
<path d="M494.4 296.7l2.45 4.0l-2.45 4.0l-2.45 -4.0z" stroke="#3c4da1"/>
<path d="M496.0 297.5l2.45 4.0l-2.45 4.0l-2.45 -4.0z" stroke="#3c4da1"/>
<path d="M507.3 290.7l2.45 4.0l-2.45 4.0l-2.45 -4.0z" stroke="#3c4da1"/>
<path d="M507.3 301.9l2.45 4.0l-2.45 4.0l-2.45 -4.0z" stroke="#3c4da1"/>
<path d="M518.1 292.0l2.45 4.0l-2.45 4.0l-2.45 -4.0z" stroke="#3c4da1"/>
<path d="M525.4 310.6l2.45 4.0l-2.45 4.0l-2.45 -4.0z" stroke="#3c4da1"/>
<path d="M527.5 294.9l2.45 4.0l-2.45 4.0l-2.45 -4.0z" stroke="#3c4da1"/>
<path d="M532.5 283.3l2.45 4.0l-2.45 4.0l-2.45 -4.0z" stroke="#3c4da1"/>
<path d="M537.2 285.4l2.45 4.0l-2.45 4.0l-2.45 -4.0z" stroke="#3c4da1"/>
<path d="M536.9 290.9l2.45 4.0l-2.45 4.0l-2.45 -4.0z" stroke="#3c4da1"/>
<path d="M543.2 296.2l2.45 4.0l-2.45 4.0l-2.45 -4.0z" stroke="#3c4da1"/>
<path d="M544.8 299.3l2.45 4.0l-2.45 4.0l-2.45 -4.0z" stroke="#3c4da1"/>
<path d="M550.1 294.3l2.45 4.0l-2.45 4.0l-2.45 -4.0z" stroke="#3c4da1"/>
<path d="M564.8 292.8l2.45 4.0l-2.45 4.0l-2.45 -4.0z" stroke="#3c4da1"/>
<path d="M426.9 397.8l2.45 4.0l-2.45 4.0l-2.45 -4.0z" stroke="#3c4da1"/>
<path d="M560.0 411.4l2.45 4.0l-2.45 4.0l-2.45 -4.0z" stroke="#3c4ca0"/>
</g></g>
<path d="M377.20 424.7v-1.9M377.20 234.5v1.9M385.11 424.7v-1.9M385.11 234.5v1.9M393.02 424.7v-3.3M393.02 234.5v3.3M400.94 424.7v-1.9M400.94 234.5v1.9M408.85 424.7v-1.9M408.85 234.5v1.9M416.76 424.7v-1.9M416.76 234.5v1.9M424.67 424.7v-1.9M424.67 234.5v1.9M432.59 424.7v-3.3M432.59 234.5v3.3M440.50 424.7v-1.9M440.50 234.5v1.9M448.41 424.7v-1.9M448.41 234.5v1.9M456.32 424.7v-1.9M456.32 234.5v1.9M464.24 424.7v-1.9M464.24 234.5v1.9M472.15 424.7v-3.3M472.15 234.5v3.3M480.06 424.7v-1.9M480.06 234.5v1.9M487.97 424.7v-1.9M487.97 234.5v1.9M495.89 424.7v-1.9M495.89 234.5v1.9M503.80 424.7v-1.9M503.80 234.5v1.9M511.71 424.7v-3.3M511.71 234.5v3.3M519.62 424.7v-1.9M519.62 234.5v1.9M527.54 424.7v-1.9M527.54 234.5v1.9M535.45 424.7v-1.9M535.45 234.5v1.9M543.36 424.7v-1.9M543.36 234.5v1.9M551.27 424.7v-3.3M551.27 234.5v3.3M559.19 424.7v-1.9M559.19 234.5v1.9M567.10 424.7v-1.9M567.10 234.5v1.9M575.01 424.7v-1.9M575.01 234.5v1.9M582.92 424.7v-1.9M582.92 234.5v1.9M590.84 424.7v-3.3M590.84 234.5v3.3M598.75 424.7v-1.9M598.75 234.5v1.9M606.66 424.7v-1.9M606.66 234.5v1.9M614.58 424.7v-1.9M614.58 234.5v1.9M622.49 424.7v-1.9M622.49 234.5v1.9M630.40 424.7v-3.3M630.40 234.5v3.3M377.2 424.70h3.3M630.4 424.70h-3.3M377.2 416.25h1.9M630.4 416.25h-1.9M377.2 407.79h1.9M630.4 407.79h-1.9M377.2 399.34h1.9M630.4 399.34h-1.9M377.2 390.89h1.9M630.4 390.89h-1.9M377.2 382.43h3.3M630.4 382.43h-3.3M377.2 373.98h1.9M630.4 373.98h-1.9M377.2 365.53h1.9M630.4 365.53h-1.9M377.2 357.07h1.9M630.4 357.07h-1.9M377.2 348.62h1.9M630.4 348.62h-1.9M377.2 340.17h3.3M630.4 340.17h-3.3M377.2 331.71h1.9M630.4 331.71h-1.9M377.2 323.26h1.9M630.4 323.26h-1.9M377.2 314.81h1.9M630.4 314.81h-1.9M377.2 306.35h1.9M630.4 306.35h-1.9M377.2 297.90h3.3M630.4 297.90h-3.3M377.2 289.45h1.9M630.4 289.45h-1.9M377.2 280.99h1.9M630.4 280.99h-1.9M377.2 272.54h1.9M630.4 272.54h-1.9M377.2 264.09h1.9M630.4 264.09h-1.9M377.2 255.63h3.3M630.4 255.63h-3.3M377.2 247.18h1.9M630.4 247.18h-1.9M377.2 238.73h1.9M630.4 238.73h-1.9" stroke="#1c1c1c" stroke-width="0.8" fill="none"/>
<rect x="377.2" y="234.5" width="253.2" height="190.2" fill="none" stroke="#1c1c1c" stroke-width="1.2"/>
<g class="tl">
<text transform="translate(393.0 435.6) scale(1 1.14)" text-anchor="middle">0.00</text>
<text transform="translate(432.6 435.6) scale(1 1.14)" text-anchor="middle">0.05</text>
<text transform="translate(472.1 435.6) scale(1 1.14)" text-anchor="middle">0.10</text>
<text transform="translate(511.7 435.6) scale(1 1.14)" text-anchor="middle">0.15</text>
<text transform="translate(551.3 435.6) scale(1 1.14)" text-anchor="middle">0.20</text>
<text transform="translate(590.8 435.6) scale(1 1.14)" text-anchor="middle">0.25</text>
<text transform="translate(630.4 435.6) scale(1 1.14)" text-anchor="middle">0.30</text>
<text transform="translate(374.6 428.8) scale(1 1.14)" text-anchor="end">3</text>
<line x1="361.4" x2="367.8" y1="424.9" y2="424.9" stroke="#1c1c1c" stroke-width="0.8"/>
<text transform="translate(374.6 386.5) scale(1 1.14)" text-anchor="end">2</text>
<line x1="361.4" x2="367.8" y1="382.6" y2="382.6" stroke="#1c1c1c" stroke-width="0.8"/>
<text transform="translate(374.6 344.3) scale(1 1.14)" text-anchor="end">1</text>
<line x1="361.4" x2="367.8" y1="340.4" y2="340.4" stroke="#1c1c1c" stroke-width="0.8"/>
<text transform="translate(374.6 302.0) scale(1 1.14)" text-anchor="end">0</text>
<text transform="translate(374.6 259.7) scale(1 1.14)" text-anchor="end">1</text>
</g>
<rect x="633.0" y="234.5" width="13.2" height="190.2" fill="url(#cb)" stroke="#2a2a2a" stroke-width="0.8"/>
<g class="tl cl">
<text transform="translate(651.8 428.9) scale(1 1.08)">1.0</text>
<text transform="translate(651.8 405.1) scale(1 1.08)">1.1</text>
<text transform="translate(651.8 381.3) scale(1 1.08)">1.2</text>
<text transform="translate(651.8 357.6) scale(1 1.08)">1.3</text>
<text transform="translate(651.8 333.8) scale(1 1.08)">1.4</text>
<text transform="translate(651.8 310.0) scale(1 1.08)">1.5</text>
<text transform="translate(651.8 286.2) scale(1 1.08)">1.6</text>
<text transform="translate(651.8 262.5) scale(1 1.08)">1.7</text>
<text transform="translate(651.8 238.7) scale(1 1.08)">1.8</text>
</g>
<path d="M646.2 424.70h2.5M646.2 400.92h2.5M646.2 377.15h2.5M646.2 353.38h2.5M646.2 329.60h2.5M646.2 305.82h2.5M646.2 282.05h2.5M646.2 258.27h2.5M646.2 234.50h2.5" stroke="#1c1c1c" stroke-width="0.8" fill="none"/>
<text class="ql" transform="translate(679.5 329.6) rotate(-90)" text-anchor="middle">q</text>
<g class="ti"><text x="573.0" y="250.8" font-style="italic">P</text><text class="sub" x="580.1" y="246.7" textLength="4.4" lengthAdjust="spacingAndGlyphs">2</text><text class="sub" x="580.1" y="253.6" textLength="4.4" lengthAdjust="spacingAndGlyphs">2</text><text x="585.4" y="250.8">(</text><text x="590.2" y="250.8" font-style="italic">q</text><text x="595.8" y="250.8">,</text><text x="600.0" y="250.8" textLength="7.4" lengthAdjust="spacingAndGlyphs">Λ</text><path d="M601.7 242.8q0.9 -1.3 1.8 -0.5t1.8 -0.5" fill="none" stroke="#1c1c1c" stroke-width="0.8"/><text x="608.4" y="250.8">)</text></g>
<text class="lg" transform="translate(625.2 418.4) scale(1 1.2)" text-anchor="end" textLength="44.6" lengthAdjust="spacingAndGlyphs">MO/M1Set</text>
<g class="xl"><text x="479.6" y="449.2" font-style="italic" textLength="10.8" lengthAdjust="spacingAndGlyphs">M</text><text class="sub" x="490.9" y="451.5" textLength="24.4" lengthAdjust="spacingAndGlyphs">disk;fit</text><text x="519.8" y="449.2">[</text><text x="523.4" y="449.2" font-style="italic" textLength="10.8" lengthAdjust="spacingAndGlyphs">M</text><circle cx="538.0" cy="449.8" r="2.4" fill="none" stroke="#1c1c1c" stroke-width="0.55"/><circle cx="538.0" cy="449.8" r="0.6" fill="#1c1c1c"/><text x="541.2" y="449.2">]</text></g>
<g class="xl yl" transform="translate(357.6 329.4) rotate(-90)"><text x="-33.5" y="0" textLength="6.8" lengthAdjust="spacingAndGlyphs">Δ</text><text x="-26.4" y="0" font-style="italic" textLength="11.4" lengthAdjust="spacingAndGlyphs">M</text><text class="sub" x="-14.4" y="2.4" textLength="13.0" lengthAdjust="spacingAndGlyphs">disk</text><text x="1.2" y="0" textLength="4.8" lengthAdjust="spacingAndGlyphs">/</text><text x="8.0" y="0" font-style="italic" textLength="11.8" lengthAdjust="spacingAndGlyphs">M</text><text class="sub" x="21.0" y="2.4" textLength="12.2" lengthAdjust="spacingAndGlyphs">disk</text></g>
</g>
<g id="p20">
<g clip-path="url(#c20)">
<rect x="29.3" y="480.7" width="218.3" height="77.5" fill="#d8d8d8"/>
<line x1="28.7" x2="282.0" y1="512.50" y2="512.50" stroke="#a0a7df" stroke-width="0.8"/>
<line x1="28.7" x2="282.0" y1="512.50" y2="512.50" stroke="#777" stroke-width="0.8" stroke-dasharray="1.2 0.5"/>
<g fill="none" stroke-width="1.12">
<path d="M28.05 506.60h2.3v2.15h2.15v2.3h-2.15v2.15h-2.3v-2.15h-2.15v-2.3h2.15z" stroke="#3c4da1"/>
<path d="M39.05 474.60h2.3v2.15h2.15v2.3h-2.15v2.15h-2.3v-2.15h-2.15v-2.3h2.15z" stroke="#3c4da1"/>
<path d="M40.95 477.10h2.3v2.15h2.15v2.3h-2.15v2.15h-2.3v-2.15h-2.15v-2.3h2.15z" stroke="#3c4da1"/>
<path d="M42.45 508.50h2.3v2.15h2.15v2.3h-2.15v2.15h-2.3v-2.15h-2.15v-2.3h2.15z" stroke="#3c4da1"/>
<path d="M43.05 519.30h2.3v2.15h2.15v2.3h-2.15v2.15h-2.3v-2.15h-2.15v-2.3h2.15z" stroke="#3c4da1"/>
<path d="M47.25 508.20h2.3v2.15h2.15v2.3h-2.15v2.15h-2.3v-2.15h-2.15v-2.3h2.15z" stroke="#3c4da1"/>
<path d="M51.45 467.60h2.3v2.15h2.15v2.3h-2.15v2.15h-2.3v-2.15h-2.15v-2.3h2.15z" stroke="#3c4da1"/>
<path d="M54.05 467.60h2.3v2.15h2.15v2.3h-2.15v2.15h-2.3v-2.15h-2.15v-2.3h2.15z" stroke="#3c4da1"/>
<path d="M54.25 475.80h2.3v2.15h2.15v2.3h-2.15v2.15h-2.3v-2.15h-2.15v-2.3h2.15z" stroke="#3c4da1"/>
<path d="M57.45 480.70h2.3v2.15h2.15v2.3h-2.15v2.15h-2.3v-2.15h-2.15v-2.3h2.15z" stroke="#3c4da1"/>
<path d="M59.35 497.40h2.3v2.15h2.15v2.3h-2.15v2.15h-2.3v-2.15h-2.15v-2.3h2.15z" stroke="#3c4da1"/>
<path d="M59.35 510.60h2.3v2.15h2.15v2.3h-2.15v2.15h-2.3v-2.15h-2.15v-2.3h2.15z" stroke="#3c4da1"/>
<path d="M57.45 524.30h2.3v2.15h2.15v2.3h-2.15v2.15h-2.3v-2.15h-2.15v-2.3h2.15z" stroke="#3c4da1"/>
<path d="M68.25 481.10h2.3v2.15h2.15v2.3h-2.15v2.15h-2.3v-2.15h-2.15v-2.3h2.15z" stroke="#3c4da1"/>
<path d="M76.25 477.60h2.3v2.15h2.15v2.3h-2.15v2.15h-2.3v-2.15h-2.15v-2.3h2.15z" stroke="#3c4da1"/>
<path d="M82.65 488.10h2.3v2.15h2.15v2.3h-2.15v2.15h-2.3v-2.15h-2.15v-2.3h2.15z" stroke="#3c4da1"/>
<path d="M82.25 496.40h2.3v2.15h2.15v2.3h-2.15v2.15h-2.3v-2.15h-2.15v-2.3h2.15z" stroke="#3c4da1"/>
<path d="M82.65 509.50h2.3v2.15h2.15v2.3h-2.15v2.15h-2.3v-2.15h-2.15v-2.3h2.15z" stroke="#3c4da1"/>
<path d="M81.75 515.20h2.3v2.15h2.15v2.3h-2.15v2.15h-2.3v-2.15h-2.15v-2.3h2.15z" stroke="#3c4da1"/>
<path d="M88.75 512.10h2.3v2.15h2.15v2.3h-2.15v2.15h-2.3v-2.15h-2.15v-2.3h2.15z" stroke="#3c4da1"/>
<path d="M82.25 537.20h2.3v2.15h2.15v2.3h-2.15v2.15h-2.3v-2.15h-2.15v-2.3h2.15z" stroke="#3c4da1"/>
<path d="M88.55 540.20h2.3v2.15h2.15v2.3h-2.15v2.15h-2.3v-2.15h-2.15v-2.3h2.15z" stroke="#3c4da1"/>
<path d="M88.75 576.90h2.3v2.15h2.15v2.3h-2.15v2.15h-2.3v-2.15h-2.15v-2.3h2.15z" stroke="#3c4da1"/>
<path d="M89.65 476.70h2.3v2.15h2.15v2.3h-2.15v2.15h-2.3v-2.15h-2.15v-2.3h2.15z" stroke="#3f68b8"/>
<path d="M91.55 477.60h2.3v2.15h2.15v2.3h-2.15v2.15h-2.3v-2.15h-2.15v-2.3h2.15z" stroke="#3f6fbd"/>
<path d="M97.45 487.10h2.3v2.15h2.15v2.3h-2.15v2.15h-2.3v-2.15h-2.15v-2.3h2.15z" stroke="#3c4da1"/>
<path d="M96.45 523.10h2.3v2.15h2.15v2.3h-2.15v2.15h-2.3v-2.15h-2.15v-2.3h2.15z" stroke="#3c4da1"/>
<path d="M96.45 530.30h2.3v2.15h2.15v2.3h-2.15v2.15h-2.3v-2.15h-2.15v-2.3h2.15z" stroke="#3c4da1"/>
<path d="M122.65 499.60h2.3v2.15h2.15v2.3h-2.15v2.15h-2.3v-2.15h-2.15v-2.3h2.15z" stroke="#3f5aae"/>
<path d="M148.35 509.60h2.3v2.15h2.15v2.3h-2.15v2.15h-2.3v-2.15h-2.15v-2.3h2.15z" stroke="#3c4da1"/>
<path d="M152.05 554.90h2.3v2.15h2.15v2.3h-2.15v2.15h-2.3v-2.15h-2.15v-2.3h2.15z" stroke="#3c4da1"/>
<path d="M151.95 603.20h2.3v2.15h2.15v2.3h-2.15v2.15h-2.3v-2.15h-2.15v-2.3h2.15z" stroke="#3c4da1"/>
<path d="M168.55 603.20h2.3v2.15h2.15v2.3h-2.15v2.15h-2.3v-2.15h-2.15v-2.3h2.15z" stroke="#3c4da1"/>
<path d="M202.05 499.60h2.3v2.15h2.15v2.3h-2.15v2.15h-2.3v-2.15h-2.15v-2.3h2.15z" stroke="#3f61b3"/>
<path d="M211.45 529.10h2.3v2.15h2.15v2.3h-2.15v2.15h-2.3v-2.15h-2.15v-2.3h2.15z" stroke="#3f61b3"/>
<path d="M211.45 544.00h2.3v2.15h2.15v2.3h-2.15v2.15h-2.3v-2.15h-2.15v-2.3h2.15z" stroke="#3f5aae"/>
<path d="M246.25 526.90h2.3v2.15h2.15v2.3h-2.15v2.15h-2.3v-2.15h-2.15v-2.3h2.15z" stroke="#5cb59b"/>
<path d="M216.05 643.00h2.3v2.15h2.15v2.3h-2.15v2.15h-2.3v-2.15h-2.15v-2.3h2.15z" stroke="#3c4ca0"/>
</g></g>
<path d="M28.70 655.6v-1.9M28.70 465.4v1.9M36.15 655.6v-1.9M36.15 465.4v1.9M43.60 655.6v-1.9M43.60 465.4v1.9M51.05 655.6v-1.9M51.05 465.4v1.9M58.50 655.6v-3.3M58.50 465.4v3.3M65.95 655.6v-1.9M65.95 465.4v1.9M73.40 655.6v-1.9M73.40 465.4v1.9M80.85 655.6v-1.9M80.85 465.4v1.9M88.30 655.6v-1.9M88.30 465.4v1.9M95.75 655.6v-3.3M95.75 465.4v3.3M103.20 655.6v-1.9M103.20 465.4v1.9M110.65 655.6v-1.9M110.65 465.4v1.9M118.10 655.6v-1.9M118.10 465.4v1.9M125.55 655.6v-1.9M125.55 465.4v1.9M133.00 655.6v-3.3M133.00 465.4v3.3M140.45 655.6v-1.9M140.45 465.4v1.9M147.90 655.6v-1.9M147.90 465.4v1.9M155.35 655.6v-1.9M155.35 465.4v1.9M162.80 655.6v-1.9M162.80 465.4v1.9M170.25 655.6v-3.3M170.25 465.4v3.3M177.70 655.6v-1.9M177.70 465.4v1.9M185.15 655.6v-1.9M185.15 465.4v1.9M192.60 655.6v-1.9M192.60 465.4v1.9M200.05 655.6v-1.9M200.05 465.4v1.9M207.50 655.6v-3.3M207.50 465.4v3.3M214.95 655.6v-1.9M214.95 465.4v1.9M222.40 655.6v-1.9M222.40 465.4v1.9M229.85 655.6v-1.9M229.85 465.4v1.9M237.30 655.6v-1.9M237.30 465.4v1.9M244.75 655.6v-3.3M244.75 465.4v3.3M252.20 655.6v-1.9M252.20 465.4v1.9M259.65 655.6v-1.9M259.65 465.4v1.9M267.10 655.6v-1.9M267.10 465.4v1.9M274.55 655.6v-1.9M274.55 465.4v1.9M282.00 655.6v-3.3M282.00 465.4v3.3M28.7 655.60h3.3M282.0 655.60h-3.3M28.7 650.85h1.9M282.0 650.85h-1.9M28.7 646.09h1.9M282.0 646.09h-1.9M28.7 641.34h1.9M282.0 641.34h-1.9M28.7 636.58h1.9M282.0 636.58h-1.9M28.7 631.83h3.3M282.0 631.83h-3.3M28.7 627.07h1.9M282.0 627.07h-1.9M28.7 622.32h1.9M282.0 622.32h-1.9M28.7 617.56h1.9M282.0 617.56h-1.9M28.7 612.81h1.9M282.0 612.81h-1.9M28.7 608.05h3.3M282.0 608.05h-3.3M28.7 603.30h1.9M282.0 603.30h-1.9M28.7 598.54h1.9M282.0 598.54h-1.9M28.7 593.78h1.9M282.0 593.78h-1.9M28.7 589.03h1.9M282.0 589.03h-1.9M28.7 584.27h3.3M282.0 584.27h-3.3M28.7 579.52h1.9M282.0 579.52h-1.9M28.7 574.76h1.9M282.0 574.76h-1.9M28.7 570.01h1.9M282.0 570.01h-1.9M28.7 565.25h1.9M282.0 565.25h-1.9M28.7 560.50h3.3M282.0 560.50h-3.3M28.7 555.75h1.9M282.0 555.75h-1.9M28.7 550.99h1.9M282.0 550.99h-1.9M28.7 546.24h1.9M282.0 546.24h-1.9M28.7 541.48h1.9M282.0 541.48h-1.9M28.7 536.73h3.3M282.0 536.73h-3.3M28.7 531.97h1.9M282.0 531.97h-1.9M28.7 527.21h1.9M282.0 527.21h-1.9M28.7 522.46h1.9M282.0 522.46h-1.9M28.7 517.70h1.9M282.0 517.70h-1.9M28.7 512.95h3.3M282.0 512.95h-3.3M28.7 508.19h1.9M282.0 508.19h-1.9M28.7 503.44h1.9M282.0 503.44h-1.9M28.7 498.69h1.9M282.0 498.69h-1.9M28.7 493.93h1.9M282.0 493.93h-1.9M28.7 489.17h3.3M282.0 489.17h-3.3M28.7 484.42h1.9M282.0 484.42h-1.9M28.7 479.66h1.9M282.0 479.66h-1.9M28.7 474.91h1.9M282.0 474.91h-1.9M28.7 470.15h1.9M282.0 470.15h-1.9M28.7 465.40h3.3M282.0 465.40h-3.3" stroke="#1c1c1c" stroke-width="0.8" fill="none"/>
<rect x="28.7" y="465.4" width="253.3" height="190.2" fill="none" stroke="#1c1c1c" stroke-width="1.2"/>
<g class="tl">
<text transform="translate(58.5 666.5) scale(1 1.14)" text-anchor="middle">0.50</text>
<text transform="translate(95.8 666.5) scale(1 1.14)" text-anchor="middle">0.75</text>
<text transform="translate(133.0 666.5) scale(1 1.14)" text-anchor="middle">1.00</text>
<text transform="translate(170.2 666.5) scale(1 1.14)" text-anchor="middle">1.25</text>
<text transform="translate(207.5 666.5) scale(1 1.14)" text-anchor="middle">1.50</text>
<text transform="translate(244.8 666.5) scale(1 1.14)" text-anchor="middle">1.75</text>
<text transform="translate(282.0 666.5) scale(1 1.14)" text-anchor="middle">2.00</text>
<text transform="translate(26.1 659.7) scale(1 1.14)" text-anchor="end">3.0</text>
<line x1="4.8" x2="11.2" y1="655.8" y2="655.8" stroke="#1c1c1c" stroke-width="0.8"/>
<text transform="translate(26.1 635.9) scale(1 1.14)" text-anchor="end">2.5</text>
<line x1="4.8" x2="11.2" y1="632.0" y2="632.0" stroke="#1c1c1c" stroke-width="0.8"/>
<text transform="translate(26.1 612.1) scale(1 1.14)" text-anchor="end">2.0</text>
<line x1="4.8" x2="11.2" y1="608.2" y2="608.2" stroke="#1c1c1c" stroke-width="0.8"/>
<text transform="translate(26.1 588.4) scale(1 1.14)" text-anchor="end">1.5</text>
<line x1="4.8" x2="11.2" y1="584.5" y2="584.5" stroke="#1c1c1c" stroke-width="0.8"/>
<text transform="translate(26.1 564.6) scale(1 1.14)" text-anchor="end">1.0</text>
<line x1="4.8" x2="11.2" y1="560.7" y2="560.7" stroke="#1c1c1c" stroke-width="0.8"/>
<text transform="translate(26.1 540.8) scale(1 1.14)" text-anchor="end">0.5</text>
<line x1="4.8" x2="11.2" y1="536.9" y2="536.9" stroke="#1c1c1c" stroke-width="0.8"/>
<text transform="translate(26.1 517.1) scale(1 1.14)" text-anchor="end">0.0</text>
<text transform="translate(26.1 493.3) scale(1 1.14)" text-anchor="end">0.5</text>
<text transform="translate(26.1 469.5) scale(1 1.14)" text-anchor="end">1.0</text>
</g>
<rect x="284.6" y="465.4" width="13.1" height="190.2" fill="url(#cb)" stroke="#2a2a2a" stroke-width="0.8"/>
<g class="tl cl">
<text transform="translate(303.3 659.8) scale(1 1.08)">1.00</text>
<text transform="translate(303.3 636.0) scale(1 1.08)">1.05</text>
<text transform="translate(303.3 612.2) scale(1 1.08)">1.10</text>
<text transform="translate(303.3 588.5) scale(1 1.08)">1.15</text>
<text transform="translate(303.3 564.7) scale(1 1.08)">1.20</text>
<text transform="translate(303.3 540.9) scale(1 1.08)">1.25</text>
<text transform="translate(303.3 517.1) scale(1 1.08)">1.30</text>
<text transform="translate(303.3 493.4) scale(1 1.08)">1.35</text>
<text transform="translate(303.3 469.6) scale(1 1.08)">1.40</text>
</g>
<path d="M297.7 655.60h2.5M297.7 631.83h2.5M297.7 608.05h2.5M297.7 584.28h2.5M297.7 560.50h2.5M297.7 536.73h2.5M297.7 512.95h2.5M297.7 489.17h2.5M297.7 465.40h2.5" stroke="#1c1c1c" stroke-width="0.8" fill="none"/>
<text class="ql" transform="translate(336.0 560.5) rotate(-90)" text-anchor="middle">q</text>
<g class="ti"><text x="224.6" y="481.7" font-style="italic">P</text><text class="sub" x="231.7" y="477.6" textLength="4.4" lengthAdjust="spacingAndGlyphs">2</text><text class="sub" x="231.7" y="484.5" textLength="4.4" lengthAdjust="spacingAndGlyphs">2</text><text x="237.0" y="481.7">(</text><text x="241.8" y="481.7" font-style="italic">q</text><text x="247.4" y="481.7">,</text><text x="251.6" y="481.7" textLength="7.4" lengthAdjust="spacingAndGlyphs">Λ</text><path d="M253.3 473.7q0.9 -1.3 1.8 -0.5t1.8 -0.5" fill="none" stroke="#1c1c1c" stroke-width="0.8"/><text x="260.0" y="481.7">)</text></g>
<text class="lg" transform="translate(276.8 649.3) scale(1 1.2)" text-anchor="end" textLength="39.1" lengthAdjust="spacingAndGlyphs">LeakSet</text>
<g class="xl"><text x="124.3" y="681.6" font-style="italic" textLength="8.6" lengthAdjust="spacingAndGlyphs">M</text><text class="sub" x="133.3" y="683.9" textLength="17.6" lengthAdjust="spacingAndGlyphs">ej;fit</text><text x="155.9" y="681.6">[10</text><text class="sub" x="168.9" y="677.2" textLength="11.4" lengthAdjust="spacingAndGlyphs">−3</text><text x="181.5" y="681.6" font-style="italic" textLength="10.6" lengthAdjust="spacingAndGlyphs">M</text><circle cx="195.9" cy="682.2" r="2.4" fill="none" stroke="#1c1c1c" stroke-width="0.55"/><circle cx="195.9" cy="682.2" r="0.6" fill="#1c1c1c"/><text x="199.5" y="681.6">]</text></g>
<g class="xl yl" transform="translate(10.0 561.7) rotate(-90)"><text x="-23.5" y="0" textLength="7.0" lengthAdjust="spacingAndGlyphs">Δ</text><text x="-15.8" y="0" font-style="italic" textLength="10.6" lengthAdjust="spacingAndGlyphs">M</text><text class="sub" x="-4.5" y="2.4" textLength="6.8" lengthAdjust="spacingAndGlyphs">ej</text><text x="2.6" y="0" textLength="4.6" lengthAdjust="spacingAndGlyphs">/</text><text x="8.8" y="0" font-style="italic" textLength="10.8" lengthAdjust="spacingAndGlyphs">M</text><text class="sub" x="20.0" y="2.4" textLength="6.4" lengthAdjust="spacingAndGlyphs">ej</text></g>
</g>
<g id="p21">
<g clip-path="url(#c21)">
<rect x="393.4" y="511.8" width="236.5" height="66.6" fill="#d8d8d8"/>
<line x1="377.2" x2="630.4" y1="526.50" y2="526.50" stroke="#a0a7df" stroke-width="0.8"/>
<line x1="377.2" x2="630.4" y1="528.50" y2="528.50" stroke="#777" stroke-width="0.8" stroke-dasharray="1.2 0.5"/>
<g fill="none" stroke-width="1.12">
<path d="M393.95 488.10h2.3v2.15h2.15v2.3h-2.15v2.15h-2.3v-2.15h-2.15v-2.3h2.15z" stroke="#3c4da1"/>
<path d="M401.55 491.30h2.3v2.15h2.15v2.3h-2.15v2.15h-2.3v-2.15h-2.15v-2.3h2.15z" stroke="#3c4da1"/>
<path d="M406.85 487.70h2.3v2.15h2.15v2.3h-2.15v2.15h-2.3v-2.15h-2.15v-2.3h2.15z" stroke="#3c4da1"/>
<path d="M392.25 509.30h2.3v2.15h2.15v2.3h-2.15v2.15h-2.3v-2.15h-2.15v-2.3h2.15z" stroke="#3c4da1"/>
<path d="M402.05 508.90h2.3v2.15h2.15v2.3h-2.15v2.15h-2.3v-2.15h-2.15v-2.3h2.15z" stroke="#3c4da1"/>
<path d="M413.25 512.90h2.3v2.15h2.15v2.3h-2.15v2.15h-2.3v-2.15h-2.15v-2.3h2.15z" stroke="#3c4da1"/>
<path d="M418.15 513.30h2.3v2.15h2.15v2.3h-2.15v2.15h-2.3v-2.15h-2.15v-2.3h2.15z" stroke="#3c4da1"/>
<path d="M406.85 524.10h2.3v2.15h2.15v2.3h-2.15v2.15h-2.3v-2.15h-2.15v-2.3h2.15z" stroke="#3c4da1"/>
<path d="M392.25 526.50h2.3v2.15h2.15v2.3h-2.15v2.15h-2.3v-2.15h-2.15v-2.3h2.15z" stroke="#3c4da1"/>
<path d="M392.45 527.30h2.3v2.15h2.15v2.3h-2.15v2.15h-2.3v-2.15h-2.15v-2.3h2.15z" stroke="#3c4da1"/>
<path d="M394.65 575.10h2.3v2.15h2.15v2.3h-2.15v2.15h-2.3v-2.15h-2.15v-2.3h2.15z" stroke="#3c4da1"/>
<path d="M444.35 502.30h2.3v2.15h2.15v2.3h-2.15v2.15h-2.3v-2.15h-2.15v-2.3h2.15z" stroke="#3c4da1"/>
<path d="M450.55 508.50h2.3v2.15h2.15v2.3h-2.15v2.15h-2.3v-2.15h-2.15v-2.3h2.15z" stroke="#3c4da1"/>
<path d="M444.35 516.90h2.3v2.15h2.15v2.3h-2.15v2.15h-2.3v-2.15h-2.15v-2.3h2.15z" stroke="#3c4da1"/>
<path d="M448.85 524.60h2.3v2.15h2.15v2.3h-2.15v2.15h-2.3v-2.15h-2.15v-2.3h2.15z" stroke="#3c4da1"/>
<path d="M450.55 527.90h2.3v2.15h2.15v2.3h-2.15v2.15h-2.3v-2.15h-2.15v-2.3h2.15z" stroke="#3c4da1"/>
<path d="M461.55 514.80h2.3v2.15h2.15v2.3h-2.15v2.15h-2.3v-2.15h-2.15v-2.3h2.15z" stroke="#3f68b8"/>
<path d="M497.55 519.50h2.3v2.15h2.15v2.3h-2.15v2.15h-2.3v-2.15h-2.15v-2.3h2.15z" stroke="#3c4da1"/>
<path d="M497.55 521.80h2.3v2.15h2.15v2.3h-2.15v2.15h-2.3v-2.15h-2.15v-2.3h2.15z" stroke="#3c4da1"/>
<path d="M393.95 596.30h2.3v2.15h2.15v2.3h-2.15v2.15h-2.3v-2.15h-2.15v-2.3h2.15z" stroke="#3c4da1"/>
<path d="M579.35 526.90h2.3v2.15h2.15v2.3h-2.15v2.15h-2.3v-2.15h-2.15v-2.3h2.15z" stroke="#3e57ab"/>
<path d="M564.55 642.90h2.3v2.15h2.15v2.3h-2.15v2.15h-2.3v-2.15h-2.15v-2.3h2.15z" stroke="#3c4ca0"/>
</g></g>
<path d="M377.20 655.6v-1.9M377.20 465.4v1.9M385.11 655.6v-1.9M385.11 465.4v1.9M393.02 655.6v-3.3M393.02 465.4v3.3M400.94 655.6v-1.9M400.94 465.4v1.9M408.85 655.6v-1.9M408.85 465.4v1.9M416.76 655.6v-1.9M416.76 465.4v1.9M424.67 655.6v-1.9M424.67 465.4v1.9M432.59 655.6v-3.3M432.59 465.4v3.3M440.50 655.6v-1.9M440.50 465.4v1.9M448.41 655.6v-1.9M448.41 465.4v1.9M456.32 655.6v-1.9M456.32 465.4v1.9M464.24 655.6v-1.9M464.24 465.4v1.9M472.15 655.6v-3.3M472.15 465.4v3.3M480.06 655.6v-1.9M480.06 465.4v1.9M487.97 655.6v-1.9M487.97 465.4v1.9M495.89 655.6v-1.9M495.89 465.4v1.9M503.80 655.6v-1.9M503.80 465.4v1.9M511.71 655.6v-3.3M511.71 465.4v3.3M519.62 655.6v-1.9M519.62 465.4v1.9M527.54 655.6v-1.9M527.54 465.4v1.9M535.45 655.6v-1.9M535.45 465.4v1.9M543.36 655.6v-1.9M543.36 465.4v1.9M551.27 655.6v-3.3M551.27 465.4v3.3M559.19 655.6v-1.9M559.19 465.4v1.9M567.10 655.6v-1.9M567.10 465.4v1.9M575.01 655.6v-1.9M575.01 465.4v1.9M582.92 655.6v-1.9M582.92 465.4v1.9M590.84 655.6v-3.3M590.84 465.4v3.3M598.75 655.6v-1.9M598.75 465.4v1.9M606.66 655.6v-1.9M606.66 465.4v1.9M614.58 655.6v-1.9M614.58 465.4v1.9M622.49 655.6v-1.9M622.49 465.4v1.9M630.40 655.6v-3.3M630.40 465.4v3.3M377.2 655.60h3.3M630.4 655.60h-3.3M377.2 647.15h1.9M630.4 647.15h-1.9M377.2 638.69h1.9M630.4 638.69h-1.9M377.2 630.24h1.9M630.4 630.24h-1.9M377.2 621.79h1.9M630.4 621.79h-1.9M377.2 613.33h3.3M630.4 613.33h-3.3M377.2 604.88h1.9M630.4 604.88h-1.9M377.2 596.43h1.9M630.4 596.43h-1.9M377.2 587.97h1.9M630.4 587.97h-1.9M377.2 579.52h1.9M630.4 579.52h-1.9M377.2 571.07h3.3M630.4 571.07h-3.3M377.2 562.61h1.9M630.4 562.61h-1.9M377.2 554.16h1.9M630.4 554.16h-1.9M377.2 545.71h1.9M630.4 545.71h-1.9M377.2 537.25h1.9M630.4 537.25h-1.9M377.2 528.80h3.3M630.4 528.80h-3.3M377.2 520.35h1.9M630.4 520.35h-1.9M377.2 511.89h1.9M630.4 511.89h-1.9M377.2 503.44h1.9M630.4 503.44h-1.9M377.2 494.99h1.9M630.4 494.99h-1.9M377.2 486.53h3.3M630.4 486.53h-3.3M377.2 478.08h1.9M630.4 478.08h-1.9M377.2 469.63h1.9M630.4 469.63h-1.9" stroke="#1c1c1c" stroke-width="0.8" fill="none"/>
<rect x="377.2" y="465.4" width="253.2" height="190.2" fill="none" stroke="#1c1c1c" stroke-width="1.2"/>
<g class="tl">
<text transform="translate(393.0 666.5) scale(1 1.14)" text-anchor="middle">0.00</text>
<text transform="translate(432.6 666.5) scale(1 1.14)" text-anchor="middle">0.05</text>
<text transform="translate(472.1 666.5) scale(1 1.14)" text-anchor="middle">0.10</text>
<text transform="translate(511.7 666.5) scale(1 1.14)" text-anchor="middle">0.15</text>
<text transform="translate(551.3 666.5) scale(1 1.14)" text-anchor="middle">0.20</text>
<text transform="translate(590.8 666.5) scale(1 1.14)" text-anchor="middle">0.25</text>
<text transform="translate(630.4 666.5) scale(1 1.14)" text-anchor="middle">0.30</text>
<text transform="translate(374.6 659.7) scale(1 1.14)" text-anchor="end">3</text>
<line x1="361.4" x2="367.8" y1="655.8" y2="655.8" stroke="#1c1c1c" stroke-width="0.8"/>
<text transform="translate(374.6 617.4) scale(1 1.14)" text-anchor="end">2</text>
<line x1="361.4" x2="367.8" y1="613.5" y2="613.5" stroke="#1c1c1c" stroke-width="0.8"/>
<text transform="translate(374.6 575.2) scale(1 1.14)" text-anchor="end">1</text>
<line x1="361.4" x2="367.8" y1="571.3" y2="571.3" stroke="#1c1c1c" stroke-width="0.8"/>
<text transform="translate(374.6 532.9) scale(1 1.14)" text-anchor="end">0</text>
<text transform="translate(374.6 490.6) scale(1 1.14)" text-anchor="end">1</text>
</g>
<rect x="633.0" y="465.4" width="13.2" height="190.2" fill="url(#cb)" stroke="#2a2a2a" stroke-width="0.8"/>
<g class="tl cl">
<text transform="translate(651.8 659.8) scale(1 1.08)">1.00</text>
<text transform="translate(651.8 636.0) scale(1 1.08)">1.05</text>
<text transform="translate(651.8 612.2) scale(1 1.08)">1.10</text>
<text transform="translate(651.8 588.5) scale(1 1.08)">1.15</text>
<text transform="translate(651.8 564.7) scale(1 1.08)">1.20</text>
<text transform="translate(651.8 540.9) scale(1 1.08)">1.25</text>
<text transform="translate(651.8 517.1) scale(1 1.08)">1.30</text>
<text transform="translate(651.8 493.4) scale(1 1.08)">1.35</text>
<text transform="translate(651.8 469.6) scale(1 1.08)">1.40</text>
</g>
<path d="M646.2 655.60h2.5M646.2 631.83h2.5M646.2 608.05h2.5M646.2 584.28h2.5M646.2 560.50h2.5M646.2 536.73h2.5M646.2 512.95h2.5M646.2 489.17h2.5M646.2 465.40h2.5" stroke="#1c1c1c" stroke-width="0.8" fill="none"/>
<text class="ql" transform="translate(684.5 560.5) rotate(-90)" text-anchor="middle">q</text>
<g class="ti"><text x="573.0" y="481.7" font-style="italic">P</text><text class="sub" x="580.1" y="477.6" textLength="4.4" lengthAdjust="spacingAndGlyphs">2</text><text class="sub" x="580.1" y="484.5" textLength="4.4" lengthAdjust="spacingAndGlyphs">2</text><text x="585.4" y="481.7">(</text><text x="590.2" y="481.7" font-style="italic">q</text><text x="595.8" y="481.7">,</text><text x="600.0" y="481.7" textLength="7.4" lengthAdjust="spacingAndGlyphs">Λ</text><path d="M601.7 473.7q0.9 -1.3 1.8 -0.5t1.8 -0.5" fill="none" stroke="#1c1c1c" stroke-width="0.8"/><text x="608.4" y="481.7">)</text></g>
<text class="lg" transform="translate(625.2 649.3) scale(1 1.2)" text-anchor="end" textLength="39.1" lengthAdjust="spacingAndGlyphs">LeakSet</text>
<g class="xl"><text x="479.6" y="680.1" font-style="italic" textLength="10.8" lengthAdjust="spacingAndGlyphs">M</text><text class="sub" x="490.9" y="682.4" textLength="24.4" lengthAdjust="spacingAndGlyphs">disk;fit</text><text x="519.8" y="680.1">[</text><text x="523.4" y="680.1" font-style="italic" textLength="10.8" lengthAdjust="spacingAndGlyphs">M</text><circle cx="538.0" cy="680.7" r="2.4" fill="none" stroke="#1c1c1c" stroke-width="0.55"/><circle cx="538.0" cy="680.7" r="0.6" fill="#1c1c1c"/><text x="541.2" y="680.1">]</text></g>
<g class="xl yl" transform="translate(357.6 560.3) rotate(-90)"><text x="-33.5" y="0" textLength="6.8" lengthAdjust="spacingAndGlyphs">Δ</text><text x="-26.4" y="0" font-style="italic" textLength="11.4" lengthAdjust="spacingAndGlyphs">M</text><text class="sub" x="-14.4" y="2.4" textLength="13.0" lengthAdjust="spacingAndGlyphs">disk</text><text x="1.2" y="0" textLength="4.8" lengthAdjust="spacingAndGlyphs">/</text><text x="8.0" y="0" font-style="italic" textLength="11.8" lengthAdjust="spacingAndGlyphs">M</text><text class="sub" x="21.0" y="2.4" textLength="12.2" lengthAdjust="spacingAndGlyphs">disk</text></g>
</g>
<g id="p30">
<g clip-path="url(#c30)">
<rect x="33.7" y="721.0" width="245.3" height="74.8" fill="#d8d8d8"/>
<line x1="28.7" x2="282.0" y1="739.50" y2="739.50" stroke="#a0a7df" stroke-width="0.8"/>
<line x1="28.7" x2="282.0" y1="743.50" y2="743.50" stroke="#777" stroke-width="0.8" stroke-dasharray="1.2 0.5"/>
<g fill="none" stroke-width="1.12">
<rect x="41.1" y="698.7" width="6.1" height="6.1" stroke="#3c4b9f"/>
<rect x="41.4" y="701.0" width="6.1" height="6.1" stroke="#3c4a9e"/>
<rect x="41.3" y="703.2" width="6.1" height="6.1" stroke="#3c4ca0"/>
<rect x="40.8" y="705.5" width="6.1" height="6.1" stroke="#3c4da1"/>
<rect x="40.8" y="707.8" width="6.1" height="6.1" stroke="#3c4ca0"/>
<rect x="40.8" y="710.1" width="6.1" height="6.1" stroke="#3c4a9e"/>
<rect x="41.2" y="712.4" width="6.1" height="6.1" stroke="#3d4ea2"/>
<rect x="40.9" y="714.7" width="6.1" height="6.1" stroke="#3c4b9f"/>
<rect x="41.4" y="717.0" width="6.1" height="6.1" stroke="#3d4fa3"/>
<rect x="41.3" y="719.3" width="6.1" height="6.1" stroke="#3c4ca0"/>
<rect x="41.7" y="721.6" width="6.1" height="6.1" stroke="#3c4a9e"/>
<rect x="41.6" y="723.9" width="6.1" height="6.1" stroke="#3c4b9f"/>
<rect x="40.9" y="726.2" width="6.1" height="6.1" stroke="#3c4b9f"/>
<rect x="41.1" y="728.5" width="6.1" height="6.1" stroke="#3d4ea2"/>
<rect x="40.9" y="730.8" width="6.1" height="6.1" stroke="#3d4da1"/>
<rect x="41.4" y="733.1" width="6.1" height="6.1" stroke="#3c4ca0"/>
<rect x="41.3" y="735.4" width="6.1" height="6.1" stroke="#3c4a9e"/>
<rect x="40.8" y="737.7" width="6.1" height="6.1" stroke="#3c4b9f"/>
<rect x="41.4" y="740.0" width="6.1" height="6.1" stroke="#3c4ca0"/>
<rect x="41.1" y="742.3" width="6.1" height="6.1" stroke="#3d4da1"/>
<rect x="41.2" y="744.6" width="6.1" height="6.1" stroke="#3c4ca0"/>
<rect x="41.5" y="746.9" width="6.1" height="6.1" stroke="#3d4ea2"/>
<rect x="41.0" y="749.2" width="6.1" height="6.1" stroke="#3d4da1"/>
<rect x="41.3" y="751.5" width="6.1" height="6.1" stroke="#3d4ea2"/>
<rect x="41.5" y="753.8" width="6.1" height="6.1" stroke="#3c4b9f"/>
<rect x="41.7" y="756.1" width="6.1" height="6.1" stroke="#3c4b9f"/>
<rect x="41.2" y="758.4" width="6.1" height="6.1" stroke="#3d4ea2"/>
<rect x="40.9" y="760.7" width="6.1" height="6.1" stroke="#3c4da1"/>
<rect x="33.8" y="738.8" width="6.1" height="6.1" stroke="#3d4fa3"/>
<rect x="39.2" y="745.5" width="6.1" height="6.1" stroke="#3c4ca0"/>
<rect x="40.4" y="736.5" width="6.1" height="6.1" stroke="#3d4ea2"/>
<rect x="38.0" y="744.3" width="6.1" height="6.1" stroke="#3d50a4"/>
<rect x="38.2" y="738.7" width="6.1" height="6.1" stroke="#3c4a9e"/>
<rect x="40.5" y="738.2" width="6.1" height="6.1" stroke="#3d50a4"/>
<rect x="41.7" y="726.6" width="6.1" height="6.1" stroke="#3c4ca0"/>
<rect x="40.1" y="718.2" width="6.1" height="6.1" stroke="#3d4da1"/>
<rect x="35.1" y="721.2" width="6.1" height="6.1" stroke="#3c4a9e"/>
<rect x="41.1" y="721.6" width="6.1" height="6.1" stroke="#3c4ca0"/>
<rect x="37.4" y="745.3" width="6.1" height="6.1" stroke="#3c4b9f"/>
<rect x="37.9" y="735.0" width="6.1" height="6.1" stroke="#3d50a4"/>
<rect x="41.6" y="745.1" width="6.1" height="6.1" stroke="#3c4ca0"/>
<rect x="37.6" y="728.9" width="6.1" height="6.1" stroke="#3d50a4"/>
<rect x="43.0" y="722.3" width="6.1" height="6.1" stroke="#3c4b9f"/>
<rect x="35.8" y="724.9" width="6.1" height="6.1" stroke="#3d4da1"/>
<rect x="39.3" y="725.9" width="6.1" height="6.1" stroke="#3c4a9e"/>
<rect x="37.6" y="729.3" width="6.1" height="6.1" stroke="#3d4ea2"/>
<rect x="43.0" y="739.5" width="6.1" height="6.1" stroke="#3d4da1"/>
<rect x="39.6" y="739.1" width="6.1" height="6.1" stroke="#3c4a9e"/>
<rect x="42.4" y="742.4" width="6.1" height="6.1" stroke="#3d50a4"/>
<rect x="41.4" y="730.0" width="6.1" height="6.1" stroke="#3c4da1"/>
<rect x="34.5" y="737.7" width="6.1" height="6.1" stroke="#3c4a9e"/>
<rect x="34.1" y="724.1" width="6.1" height="6.1" stroke="#3c4b9f"/>
<rect x="36.9" y="719.1" width="6.1" height="6.1" stroke="#3c4a9e"/>
<rect x="35.0" y="720.7" width="6.1" height="6.1" stroke="#3c4ca0"/>
<rect x="33.7" y="745.4" width="6.1" height="6.1" stroke="#3d4ea2"/>
<rect x="34.9" y="725.5" width="6.1" height="6.1" stroke="#3c4ca0"/>
<rect x="37.1" y="721.4" width="6.1" height="6.1" stroke="#3d4fa3"/>
<rect x="43.4" y="732.4" width="6.1" height="6.1" stroke="#3d4da1"/>
<rect x="34.3" y="720.7" width="6.1" height="6.1" stroke="#3c4ca0"/>
<rect x="36.1" y="744.0" width="6.1" height="6.1" stroke="#3c4b9f"/>
<rect x="33.7" y="747.9" width="6.1" height="6.1" stroke="#3d4da1"/>
<rect x="34.9" y="734.8" width="6.1" height="6.1" stroke="#3c4a9e"/>
<rect x="38.7" y="748.8" width="6.1" height="6.1" stroke="#3d50a4"/>
<rect x="40.4" y="725.8" width="6.1" height="6.1" stroke="#3c4ca0"/>
<rect x="35.1" y="742.2" width="6.1" height="6.1" stroke="#3d4da1"/>
<rect x="41.2" y="728.0" width="6.1" height="6.1" stroke="#3c4b9f"/>
<rect x="41.6" y="749.0" width="6.1" height="6.1" stroke="#3d4fa3"/>
<rect x="41.5" y="743.6" width="6.1" height="6.1" stroke="#3d4fa3"/>
<rect x="35.7" y="734.0" width="6.1" height="6.1" stroke="#3c4ca0"/>
<rect x="33.7" y="718.3" width="6.1" height="6.1" stroke="#3c4ca0"/>
<rect x="36.0" y="739.6" width="6.1" height="6.1" stroke="#3d50a4"/>
<rect x="37.9" y="747.4" width="6.1" height="6.1" stroke="#3d50a4"/>
<rect x="43.0" y="729.1" width="6.1" height="6.1" stroke="#3c4b9f"/>
<rect x="35.7" y="723.7" width="6.1" height="6.1" stroke="#3c4b9f"/>
<rect x="40.1" y="753.2" width="6.1" height="6.1" stroke="#3d4fa3"/>
<rect x="38.5" y="749.9" width="6.1" height="6.1" stroke="#3d4fa3"/>
<rect x="33.9" y="750.0" width="6.1" height="6.1" stroke="#3d50a4"/>
<rect x="41.9" y="751.2" width="6.1" height="6.1" stroke="#3d4da1"/>
<rect x="35.0" y="751.7" width="6.1" height="6.1" stroke="#3c4ca0"/>
<rect x="42.2" y="754.1" width="6.1" height="6.1" stroke="#3c4da1"/>
<rect x="37.6" y="753.8" width="6.1" height="6.1" stroke="#3d4fa3"/>
<rect x="34.9" y="743.1" width="6.1" height="6.1" stroke="#3c4b9f"/>
<rect x="43.4" y="751.9" width="6.1" height="6.1" stroke="#3c4b9f"/>
<rect x="42.5" y="754.2" width="6.1" height="6.1" stroke="#3d4ea2"/>
<rect x="37.0" y="748.6" width="6.1" height="6.1" stroke="#3c4b9f"/>
<rect x="33.1" y="754.1" width="6.1" height="6.1" stroke="#3d4ea2"/>
<rect x="39.0" y="753.6" width="6.1" height="6.1" stroke="#3d4da1"/>
<rect x="43.0" y="752.2" width="6.1" height="6.1" stroke="#3c4b9f"/>
<rect x="39.7" y="703.6" width="6.1" height="6.1" stroke="#3c4b9f"/>
<rect x="41.9" y="703.0" width="6.1" height="6.1" stroke="#3c4ca0"/>
<rect x="38.8" y="714.4" width="6.1" height="6.1" stroke="#3c4ca0"/>
<rect x="41.1" y="708.7" width="6.1" height="6.1" stroke="#3d4fa3"/>
<rect x="40.8" y="714.5" width="6.1" height="6.1" stroke="#3c4da1"/>
<rect x="41.6" y="707.6" width="6.1" height="6.1" stroke="#3c4a9e"/>
<rect x="40.9" y="701.7" width="6.1" height="6.1" stroke="#3c4a9e"/>
<rect x="43.4" y="701.5" width="6.1" height="6.1" stroke="#3c4ca0"/>
<rect x="30.1" y="708.6" width="6.1" height="6.1" stroke="#3c4da1"/>
<rect x="33.6" y="714.0" width="6.1" height="6.1" stroke="#3c4da1"/>
<rect x="30.6" y="728.8" width="6.1" height="6.1" stroke="#3c4da1"/>
<rect x="31.6" y="733.0" width="6.1" height="6.1" stroke="#3c4da1"/>
<rect x="51.8" y="703.2" width="6.1" height="6.1" stroke="#3d50a4"/>
<rect x="48.0" y="713.8" width="6.1" height="6.1" stroke="#3c4da1"/>
<rect x="55.4" y="713.6" width="6.1" height="6.1" stroke="#3f5aae"/>
<rect x="56.4" y="712.8" width="6.1" height="6.1" stroke="#3e57ab"/>
<rect x="62.2" y="707.6" width="6.1" height="6.1" stroke="#407ac2"/>
<rect x="69.4" y="711.4" width="6.1" height="6.1" stroke="#4da4af"/>
<rect x="69.0" y="717.0" width="6.1" height="6.1" stroke="#4fa6ad"/>
<rect x="85.2" y="716.8" width="6.1" height="6.1" stroke="#77c086"/>
<rect x="84.2" y="717.8" width="6.1" height="6.1" stroke="#77c086"/>
<rect x="76.4" y="718.9" width="6.1" height="6.1" stroke="#63b896"/>
<rect x="76.4" y="722.7" width="6.1" height="6.1" stroke="#63b896"/>
<rect x="76.4" y="725.7" width="6.1" height="6.1" stroke="#63b896"/>
<rect x="76.4" y="728.8" width="6.1" height="6.1" stroke="#63b896"/>
<rect x="83.5" y="723.2" width="6.1" height="6.1" stroke="#77c086"/>
<rect x="83.5" y="728.8" width="6.1" height="6.1" stroke="#77c086"/>
<rect x="85.5" y="734.2" width="6.1" height="6.1" stroke="#77c086"/>
<rect x="88.5" y="740.2" width="6.1" height="6.1" stroke="#77c086"/>
<rect x="68.4" y="723.7" width="6.1" height="6.1" stroke="#50a8ab"/>
<rect x="68.4" y="729.2" width="6.1" height="6.1" stroke="#4da4af"/>
<rect x="68.4" y="732.9" width="6.1" height="6.1" stroke="#50a8ab"/>
<rect x="69.4" y="736.4" width="6.1" height="6.1" stroke="#50a8ab"/>
<rect x="68.4" y="742.0" width="6.1" height="6.1" stroke="#50a8ab"/>
<rect x="68.8" y="751.8" width="6.1" height="6.1" stroke="#54aca6"/>
<rect x="67.5" y="758.4" width="6.1" height="6.1" stroke="#50a8ab"/>
<rect x="68.2" y="763.8" width="6.1" height="6.1" stroke="#50a8ab"/>
<rect x="68.2" y="772.7" width="6.1" height="6.1" stroke="#4da4af"/>
<rect x="66.7" y="780.2" width="6.1" height="6.1" stroke="#54aca6"/>
<rect x="68.4" y="783.7" width="6.1" height="6.1" stroke="#50a8ab"/>
<rect x="57.4" y="726.4" width="6.1" height="6.1" stroke="#4078c2"/>
<rect x="60.2" y="726.2" width="6.1" height="6.1" stroke="#4078c2"/>
<rect x="50.4" y="727.6" width="6.1" height="6.1" stroke="#3e54a8"/>
<rect x="47.8" y="726.5" width="6.1" height="6.1" stroke="#3d50a4"/>
<rect x="56.8" y="735.8" width="6.1" height="6.1" stroke="#3f68b8"/>
<rect x="63.8" y="737.1" width="6.1" height="6.1" stroke="#3f6fbd"/>
<rect x="53.7" y="744.0" width="6.1" height="6.1" stroke="#3f5aae"/>
<rect x="49.0" y="744.1" width="6.1" height="6.1" stroke="#3d50a4"/>
<rect x="50.7" y="751.2" width="6.1" height="6.1" stroke="#3e57ab"/>
<rect x="47.4" y="749.4" width="6.1" height="6.1" stroke="#3d50a4"/>
<rect x="53.2" y="761.2" width="6.1" height="6.1" stroke="#3f5aae"/>
<rect x="57.8" y="772.5" width="6.1" height="6.1" stroke="#3f61b3"/>
<rect x="76.4" y="761.0" width="6.1" height="6.1" stroke="#63b896"/>
<rect x="76.0" y="766.2" width="6.1" height="6.1" stroke="#63b896"/>
<rect x="36.6" y="759.2" width="6.1" height="6.1" stroke="#3c4da1"/>
<rect x="37.6" y="759.0" width="6.1" height="6.1" stroke="#3c4da1"/>
<rect x="39.2" y="759.4" width="6.1" height="6.1" stroke="#3c4da1"/>
<rect x="42.6" y="759.2" width="6.1" height="6.1" stroke="#3c4da1"/>
<rect x="43.2" y="759.6" width="6.1" height="6.1" stroke="#3c4da1"/>
<rect x="41.4" y="755.1" width="6.1" height="6.1" stroke="#3c4da1"/>
<rect x="42.1" y="779.9" width="6.1" height="6.1" stroke="#3c4da1"/>
<rect x="42.6" y="785.7" width="6.1" height="6.1" stroke="#3c4da1"/>
<rect x="50.0" y="783.7" width="6.1" height="6.1" stroke="#3f5aae"/>
<rect x="41.4" y="793.2" width="6.1" height="6.1" stroke="#3c4da1"/>
<rect x="45.5" y="791.4" width="6.1" height="6.1" stroke="#3c4da1"/>
<rect x="45.9" y="791.9" width="6.1" height="6.1" stroke="#3c4da1"/>
<rect x="46.5" y="794.4" width="6.1" height="6.1" stroke="#3e57ab"/>
<rect x="43.0" y="806.5" width="6.1" height="6.1" stroke="#3c4da1"/>
<rect x="35.8" y="813.7" width="6.1" height="6.1" stroke="#3c4da1"/>
<rect x="35.8" y="815.7" width="6.1" height="6.1" stroke="#3c4da1"/>
<rect x="35.8" y="817.6" width="6.1" height="6.1" stroke="#3c4da1"/>
<rect x="35.8" y="819.2" width="6.1" height="6.1" stroke="#3c4da1"/>
<rect x="42.8" y="813.7" width="6.1" height="6.1" stroke="#3c4da1"/>
<rect x="42.8" y="815.7" width="6.1" height="6.1" stroke="#3c4da1"/>
<rect x="42.8" y="817.6" width="6.1" height="6.1" stroke="#3c4da1"/>
<rect x="37.2" y="834.7" width="6.1" height="6.1" stroke="#3c4da1"/>
<rect x="67.0" y="847.9" width="6.1" height="6.1" stroke="#4181c6"/>
<rect x="76.4" y="857.8" width="6.1" height="6.1" stroke="#63b896"/>
<rect x="37.2" y="862.7" width="6.1" height="6.1" stroke="#3c4da1"/>
<rect x="40.2" y="871.7" width="6.1" height="6.1" stroke="#3c4da1"/>
<rect x="43.4" y="880.2" width="6.1" height="6.1" stroke="#3c4da1"/>
<rect x="126.8" y="724.7" width="6.1" height="6.1" stroke="#83c37b"/>
<rect x="120.9" y="734.9" width="6.1" height="6.1" stroke="#83c37b"/>
<rect x="119.2" y="735.8" width="6.1" height="6.1" stroke="#83c37b"/>
<rect x="118.4" y="736.4" width="6.1" height="6.1" stroke="#83c37b"/>
<rect x="129.3" y="736.0" width="6.1" height="6.1" stroke="#83c37b"/>
<rect x="117.5" y="746.5" width="6.1" height="6.1" stroke="#83c37b"/>
<rect x="129.1" y="748.4" width="6.1" height="6.1" stroke="#83c37b"/>
<rect x="140.3" y="729.2" width="6.1" height="6.1" stroke="#83c37b"/>
<rect x="144.1" y="735.5" width="6.1" height="6.1" stroke="#83c37b"/>
<rect x="141.3" y="744.0" width="6.1" height="6.1" stroke="#83c37b"/>
<rect x="138.6" y="746.9" width="6.1" height="6.1" stroke="#83c37b"/>
<rect x="156.6" y="730.7" width="6.1" height="6.1" stroke="#83c37b"/>
<rect x="166.8" y="735.5" width="6.1" height="6.1" stroke="#83c37b"/>
<rect x="175.3" y="734.5" width="6.1" height="6.1" stroke="#83c37b"/>
<rect x="173.4" y="739.4" width="6.1" height="6.1" stroke="#83c37b"/>
<rect x="202.0" y="729.8" width="6.1" height="6.1" stroke="#83c37b"/>
<rect x="202.9" y="735.0" width="6.1" height="6.1" stroke="#83c37b"/>
<rect x="109.9" y="791.8" width="6.1" height="6.1" stroke="#83c37b"/>
<rect x="113.9" y="794.8" width="6.1" height="6.1" stroke="#83c37b"/>
<rect x="112.5" y="806.2" width="6.1" height="6.1" stroke="#83c37b"/>
<rect x="270.6" y="739.2" width="6.1" height="6.1" stroke="#83c37b"/>
<rect x="208.4" y="873.6" width="6.1" height="6.1" stroke="#3c4ca0"/>
</g></g>
<path d="M28.70 886.3v-3.3M28.70 696.1v3.3M41.37 886.3v-1.9M41.37 696.1v1.9M54.03 886.3v-1.9M54.03 696.1v1.9M66.69 886.3v-1.9M66.69 696.1v1.9M79.36 886.3v-1.9M79.36 696.1v1.9M92.03 886.3v-3.3M92.03 696.1v3.3M104.69 886.3v-1.9M104.69 696.1v1.9M117.36 886.3v-1.9M117.36 696.1v1.9M130.02 886.3v-1.9M130.02 696.1v1.9M142.69 886.3v-1.9M142.69 696.1v1.9M155.35 886.3v-3.3M155.35 696.1v3.3M168.02 886.3v-1.9M168.02 696.1v1.9M180.68 886.3v-1.9M180.68 696.1v1.9M193.34 886.3v-1.9M193.34 696.1v1.9M206.01 886.3v-1.9M206.01 696.1v1.9M218.68 886.3v-3.3M218.68 696.1v3.3M231.34 886.3v-1.9M231.34 696.1v1.9M244.00 886.3v-1.9M244.00 696.1v1.9M256.67 886.3v-1.9M256.67 696.1v1.9M269.33 886.3v-1.9M269.33 696.1v1.9M282.00 886.3v-3.3M282.00 696.1v3.3M28.7 886.30h3.3M282.0 886.30h-3.3M28.7 881.54h1.9M282.0 881.54h-1.9M28.7 876.79h1.9M282.0 876.79h-1.9M28.7 872.03h1.9M282.0 872.03h-1.9M28.7 867.28h1.9M282.0 867.28h-1.9M28.7 862.52h3.3M282.0 862.52h-3.3M28.7 857.77h1.9M282.0 857.77h-1.9M28.7 853.01h1.9M282.0 853.01h-1.9M28.7 848.26h1.9M282.0 848.26h-1.9M28.7 843.50h1.9M282.0 843.50h-1.9M28.7 838.75h3.3M282.0 838.75h-3.3M28.7 834.00h1.9M282.0 834.00h-1.9M28.7 829.24h1.9M282.0 829.24h-1.9M28.7 824.49h1.9M282.0 824.49h-1.9M28.7 819.73h1.9M282.0 819.73h-1.9M28.7 814.98h3.3M282.0 814.98h-3.3M28.7 810.22h1.9M282.0 810.22h-1.9M28.7 805.47h1.9M282.0 805.47h-1.9M28.7 800.71h1.9M282.0 800.71h-1.9M28.7 795.95h1.9M282.0 795.95h-1.9M28.7 791.20h3.3M282.0 791.20h-3.3M28.7 786.44h1.9M282.0 786.44h-1.9M28.7 781.69h1.9M282.0 781.69h-1.9M28.7 776.93h1.9M282.0 776.93h-1.9M28.7 772.18h1.9M282.0 772.18h-1.9M28.7 767.42h3.3M282.0 767.42h-3.3M28.7 762.67h1.9M282.0 762.67h-1.9M28.7 757.91h1.9M282.0 757.91h-1.9M28.7 753.16h1.9M282.0 753.16h-1.9M28.7 748.40h1.9M282.0 748.40h-1.9M28.7 743.65h3.3M282.0 743.65h-3.3M28.7 738.89h1.9M282.0 738.89h-1.9M28.7 734.14h1.9M282.0 734.14h-1.9M28.7 729.38h1.9M282.0 729.38h-1.9M28.7 724.63h1.9M282.0 724.63h-1.9M28.7 719.88h3.3M282.0 719.88h-3.3M28.7 715.12h1.9M282.0 715.12h-1.9M28.7 710.37h1.9M282.0 710.37h-1.9M28.7 705.61h1.9M282.0 705.61h-1.9M28.7 700.86h1.9M282.0 700.86h-1.9M28.7 696.10h3.3M282.0 696.10h-3.3" stroke="#1c1c1c" stroke-width="0.8" fill="none"/>
<rect x="28.7" y="696.1" width="253.3" height="190.2" fill="none" stroke="#1c1c1c" stroke-width="1.2"/>
<g class="tl">
<text transform="translate(28.7 897.2) scale(1 1.14)" text-anchor="middle">0</text>
<text transform="translate(92.0 897.2) scale(1 1.14)" text-anchor="middle">10</text>
<text transform="translate(155.3 897.2) scale(1 1.14)" text-anchor="middle">20</text>
<text transform="translate(218.7 897.2) scale(1 1.14)" text-anchor="middle">30</text>
<text transform="translate(282.0 897.2) scale(1 1.14)" text-anchor="middle">40</text>
<text transform="translate(26.1 890.4) scale(1 1.14)" text-anchor="end">3.0</text>
<line x1="4.8" x2="11.2" y1="886.5" y2="886.5" stroke="#1c1c1c" stroke-width="0.8"/>
<text transform="translate(26.1 866.6) scale(1 1.14)" text-anchor="end">2.5</text>
<line x1="4.8" x2="11.2" y1="862.7" y2="862.7" stroke="#1c1c1c" stroke-width="0.8"/>
<text transform="translate(26.1 842.9) scale(1 1.14)" text-anchor="end">2.0</text>
<line x1="4.8" x2="11.2" y1="839.0" y2="839.0" stroke="#1c1c1c" stroke-width="0.8"/>
<text transform="translate(26.1 819.1) scale(1 1.14)" text-anchor="end">1.5</text>
<line x1="4.8" x2="11.2" y1="815.2" y2="815.2" stroke="#1c1c1c" stroke-width="0.8"/>
<text transform="translate(26.1 795.3) scale(1 1.14)" text-anchor="end">1.0</text>
<line x1="4.8" x2="11.2" y1="791.4" y2="791.4" stroke="#1c1c1c" stroke-width="0.8"/>
<text transform="translate(26.1 771.5) scale(1 1.14)" text-anchor="end">0.5</text>
<line x1="4.8" x2="11.2" y1="767.6" y2="767.6" stroke="#1c1c1c" stroke-width="0.8"/>
<text transform="translate(26.1 747.8) scale(1 1.14)" text-anchor="end">0.0</text>
<text transform="translate(26.1 724.0) scale(1 1.14)" text-anchor="end">0.5</text>
<text transform="translate(26.1 700.2) scale(1 1.14)" text-anchor="end">1.0</text>
</g>
<rect x="284.6" y="696.1" width="13.1" height="190.2" fill="url(#cb)" stroke="#2a2a2a" stroke-width="0.8"/>
<g class="tl cl">
<text transform="translate(303.3 890.5) scale(1 1.08)">1.00</text>
<text transform="translate(303.3 866.7) scale(1 1.08)">1.05</text>
<text transform="translate(303.3 842.9) scale(1 1.08)">1.10</text>
<text transform="translate(303.3 819.2) scale(1 1.08)">1.15</text>
<text transform="translate(303.3 795.4) scale(1 1.08)">1.20</text>
<text transform="translate(303.3 771.6) scale(1 1.08)">1.25</text>
<text transform="translate(303.3 747.9) scale(1 1.08)">1.30</text>
<text transform="translate(303.3 724.1) scale(1 1.08)">1.35</text>
<text transform="translate(303.3 700.3) scale(1 1.08)">1.40</text>
</g>
<path d="M297.7 886.30h2.5M297.7 862.52h2.5M297.7 838.75h2.5M297.7 814.98h2.5M297.7 791.20h2.5M297.7 767.42h2.5M297.7 743.65h2.5M297.7 719.88h2.5M297.7 696.10h2.5" stroke="#1c1c1c" stroke-width="0.8" fill="none"/>
<text class="ql" transform="translate(336.0 791.2) rotate(-90)" text-anchor="middle">q</text>
<g class="ti"><text x="224.6" y="712.4" font-style="italic">P</text><text class="sub" x="231.7" y="708.3" textLength="4.4" lengthAdjust="spacingAndGlyphs">2</text><text class="sub" x="231.7" y="715.2" textLength="4.4" lengthAdjust="spacingAndGlyphs">2</text><text x="237.0" y="712.4">(</text><text x="241.8" y="712.4" font-style="italic">q</text><text x="247.4" y="712.4">,</text><text x="251.6" y="712.4" textLength="7.4" lengthAdjust="spacingAndGlyphs">Λ</text><path d="M253.3 704.4q0.9 -1.3 1.8 -0.5t1.8 -0.5" fill="none" stroke="#1c1c1c" stroke-width="0.8"/><text x="260.0" y="712.4">)</text></g>
<text class="lg" transform="translate(276.8 880.0) scale(1 1.2)" text-anchor="end" textLength="44.6" lengthAdjust="spacingAndGlyphs">NoNusSet</text>
<g class="xl"><text x="124.3" y="912.3" font-style="italic" textLength="8.6" lengthAdjust="spacingAndGlyphs">M</text><text class="sub" x="133.3" y="914.6" textLength="17.6" lengthAdjust="spacingAndGlyphs">ej;fit</text><text x="155.9" y="912.3">[10</text><text class="sub" x="168.9" y="907.9" textLength="11.4" lengthAdjust="spacingAndGlyphs">−3</text><text x="181.5" y="912.3" font-style="italic" textLength="10.6" lengthAdjust="spacingAndGlyphs">M</text><circle cx="195.9" cy="912.9" r="2.4" fill="none" stroke="#1c1c1c" stroke-width="0.55"/><circle cx="195.9" cy="912.9" r="0.6" fill="#1c1c1c"/><text x="199.5" y="912.3">]</text></g>
<g class="xl yl" transform="translate(10.0 792.4) rotate(-90)"><text x="-23.5" y="0" textLength="7.0" lengthAdjust="spacingAndGlyphs">Δ</text><text x="-15.8" y="0" font-style="italic" textLength="10.6" lengthAdjust="spacingAndGlyphs">M</text><text class="sub" x="-4.5" y="2.4" textLength="6.8" lengthAdjust="spacingAndGlyphs">ej</text><text x="2.6" y="0" textLength="4.6" lengthAdjust="spacingAndGlyphs">/</text><text x="8.8" y="0" font-style="italic" textLength="10.8" lengthAdjust="spacingAndGlyphs">M</text><text class="sub" x="20.0" y="2.4" textLength="6.4" lengthAdjust="spacingAndGlyphs">ej</text></g>
</g>
<g id="p31">
<g clip-path="url(#c31)">
<rect x="393.4" y="740.1" width="236.5" height="63.8" fill="#d8d8d8"/>
<line x1="377.2" x2="630.4" y1="756.50" y2="756.50" stroke="#a0a7df" stroke-width="0.8"/>
<line x1="377.2" x2="630.4" y1="759.50" y2="759.50" stroke="#777" stroke-width="0.8" stroke-dasharray="1.2 0.5"/>
<g fill="none" stroke-width="1.12">
<rect x="405.3" y="717.7" width="6.1" height="6.1" stroke="#3c4da1"/>
<rect x="397.3" y="726.6" width="6.1" height="6.1" stroke="#3c4da1"/>
<rect x="413.8" y="727.5" width="6.1" height="6.1" stroke="#3c4da1"/>
<rect x="393.3" y="737.8" width="6.1" height="6.1" stroke="#3c4da1"/>
<rect x="390.3" y="740.0" width="6.1" height="6.1" stroke="#3c4da1"/>
<rect x="391.6" y="746.2" width="6.1" height="6.1" stroke="#3c4da1"/>
<rect x="402.1" y="750.2" width="6.1" height="6.1" stroke="#3c4da1"/>
<rect x="404.6" y="762.4" width="6.1" height="6.1" stroke="#3c4da1"/>
<rect x="391.2" y="770.5" width="6.1" height="6.1" stroke="#3c4da1"/>
<rect x="391.6" y="800.8" width="6.1" height="6.1" stroke="#3c4da1"/>
<rect x="434.1" y="734.0" width="6.1" height="6.1" stroke="#3c4da1"/>
<rect x="432.2" y="756.7" width="6.1" height="6.1" stroke="#3c4da1"/>
<rect x="440.3" y="736.8" width="6.1" height="6.1" stroke="#67b992"/>
<rect x="441.4" y="738.9" width="6.1" height="6.1" stroke="#3e57ab"/>
<rect x="447.1" y="729.4" width="6.1" height="6.1" stroke="#4da4af"/>
<rect x="438.2" y="755.4" width="6.1" height="6.1" stroke="#5eb699"/>
<rect x="450.6" y="751.2" width="6.1" height="6.1" stroke="#5eb699"/>
<rect x="453.1" y="742.1" width="6.1" height="6.1" stroke="#5eb699"/>
<rect x="460.4" y="741.2" width="6.1" height="6.1" stroke="#7cc181"/>
<rect x="434.2" y="777.5" width="6.1" height="6.1" stroke="#5ab39d"/>
<rect x="433.3" y="778.5" width="6.1" height="6.1" stroke="#59b19f"/>
<rect x="432.1" y="792.0" width="6.1" height="6.1" stroke="#59b19f"/>
<rect x="431.3" y="809.8" width="6.1" height="6.1" stroke="#54aca6"/>
<rect x="475.9" y="737.0" width="6.1" height="6.1" stroke="#3c4da1"/>
<rect x="486.6" y="751.2" width="6.1" height="6.1" stroke="#80c27e"/>
<rect x="494.8" y="749.2" width="6.1" height="6.1" stroke="#60b797"/>
<rect x="500.3" y="742.2" width="6.1" height="6.1" stroke="#3c4da1"/>
<rect x="520.8" y="752.9" width="6.1" height="6.1" stroke="#80c27e"/>
<rect x="526.2" y="745.7" width="6.1" height="6.1" stroke="#4698ba"/>
<rect x="573.4" y="763.1" width="6.1" height="6.1" stroke="#83c37b"/>
<rect x="604.2" y="758.2" width="6.1" height="6.1" stroke="#83c37b"/>
<rect x="615.1" y="760.4" width="6.1" height="6.1" stroke="#83c37b"/>
<rect x="625.7" y="768.8" width="6.1" height="6.1" stroke="#3c4da1"/>
<rect x="392.8" y="849.1" width="6.1" height="6.1" stroke="#3c4da1"/>
<rect x="395.4" y="876.4" width="6.1" height="6.1" stroke="#3c4da1"/>
<rect x="557.0" y="873.8" width="6.1" height="6.1" stroke="#3c4ca0"/>
</g></g>
<path d="M377.20 886.3v-1.9M377.20 696.1v1.9M385.11 886.3v-1.9M385.11 696.1v1.9M393.02 886.3v-3.3M393.02 696.1v3.3M400.94 886.3v-1.9M400.94 696.1v1.9M408.85 886.3v-1.9M408.85 696.1v1.9M416.76 886.3v-1.9M416.76 696.1v1.9M424.67 886.3v-1.9M424.67 696.1v1.9M432.59 886.3v-3.3M432.59 696.1v3.3M440.50 886.3v-1.9M440.50 696.1v1.9M448.41 886.3v-1.9M448.41 696.1v1.9M456.32 886.3v-1.9M456.32 696.1v1.9M464.24 886.3v-1.9M464.24 696.1v1.9M472.15 886.3v-3.3M472.15 696.1v3.3M480.06 886.3v-1.9M480.06 696.1v1.9M487.97 886.3v-1.9M487.97 696.1v1.9M495.89 886.3v-1.9M495.89 696.1v1.9M503.80 886.3v-1.9M503.80 696.1v1.9M511.71 886.3v-3.3M511.71 696.1v3.3M519.62 886.3v-1.9M519.62 696.1v1.9M527.54 886.3v-1.9M527.54 696.1v1.9M535.45 886.3v-1.9M535.45 696.1v1.9M543.36 886.3v-1.9M543.36 696.1v1.9M551.27 886.3v-3.3M551.27 696.1v3.3M559.19 886.3v-1.9M559.19 696.1v1.9M567.10 886.3v-1.9M567.10 696.1v1.9M575.01 886.3v-1.9M575.01 696.1v1.9M582.92 886.3v-1.9M582.92 696.1v1.9M590.84 886.3v-3.3M590.84 696.1v3.3M598.75 886.3v-1.9M598.75 696.1v1.9M606.66 886.3v-1.9M606.66 696.1v1.9M614.58 886.3v-1.9M614.58 696.1v1.9M622.49 886.3v-1.9M622.49 696.1v1.9M630.40 886.3v-3.3M630.40 696.1v3.3M377.2 886.30h3.3M630.4 886.30h-3.3M377.2 877.85h1.9M630.4 877.85h-1.9M377.2 869.39h1.9M630.4 869.39h-1.9M377.2 860.94h1.9M630.4 860.94h-1.9M377.2 852.49h1.9M630.4 852.49h-1.9M377.2 844.03h3.3M630.4 844.03h-3.3M377.2 835.58h1.9M630.4 835.58h-1.9M377.2 827.13h1.9M630.4 827.13h-1.9M377.2 818.67h1.9M630.4 818.67h-1.9M377.2 810.22h1.9M630.4 810.22h-1.9M377.2 801.77h3.3M630.4 801.77h-3.3M377.2 793.31h1.9M630.4 793.31h-1.9M377.2 784.86h1.9M630.4 784.86h-1.9M377.2 776.41h1.9M630.4 776.41h-1.9M377.2 767.95h1.9M630.4 767.95h-1.9M377.2 759.50h3.3M630.4 759.50h-3.3M377.2 751.05h1.9M630.4 751.05h-1.9M377.2 742.59h1.9M630.4 742.59h-1.9M377.2 734.14h1.9M630.4 734.14h-1.9M377.2 725.69h1.9M630.4 725.69h-1.9M377.2 717.23h3.3M630.4 717.23h-3.3M377.2 708.78h1.9M630.4 708.78h-1.9M377.2 700.33h1.9M630.4 700.33h-1.9" stroke="#1c1c1c" stroke-width="0.8" fill="none"/>
<rect x="377.2" y="696.1" width="253.2" height="190.2" fill="none" stroke="#1c1c1c" stroke-width="1.2"/>
<g class="tl">
<text transform="translate(393.0 897.2) scale(1 1.14)" text-anchor="middle">0.00</text>
<text transform="translate(432.6 897.2) scale(1 1.14)" text-anchor="middle">0.05</text>
<text transform="translate(472.1 897.2) scale(1 1.14)" text-anchor="middle">0.10</text>
<text transform="translate(511.7 897.2) scale(1 1.14)" text-anchor="middle">0.15</text>
<text transform="translate(551.3 897.2) scale(1 1.14)" text-anchor="middle">0.20</text>
<text transform="translate(590.8 897.2) scale(1 1.14)" text-anchor="middle">0.25</text>
<text transform="translate(630.4 897.2) scale(1 1.14)" text-anchor="middle">0.30</text>
<text transform="translate(374.6 890.4) scale(1 1.14)" text-anchor="end">3</text>
<line x1="361.4" x2="367.8" y1="886.5" y2="886.5" stroke="#1c1c1c" stroke-width="0.8"/>
<text transform="translate(374.6 848.1) scale(1 1.14)" text-anchor="end">2</text>
<line x1="361.4" x2="367.8" y1="844.2" y2="844.2" stroke="#1c1c1c" stroke-width="0.8"/>
<text transform="translate(374.6 805.9) scale(1 1.14)" text-anchor="end">1</text>
<line x1="361.4" x2="367.8" y1="802.0" y2="802.0" stroke="#1c1c1c" stroke-width="0.8"/>
<text transform="translate(374.6 763.6) scale(1 1.14)" text-anchor="end">0</text>
<text transform="translate(374.6 721.3) scale(1 1.14)" text-anchor="end">1</text>
</g>
<rect x="633.0" y="696.1" width="13.2" height="190.2" fill="url(#cb)" stroke="#2a2a2a" stroke-width="0.8"/>
<g class="tl cl">
<text transform="translate(651.8 890.5) scale(1 1.08)">1.00</text>
<text transform="translate(651.8 866.7) scale(1 1.08)">1.05</text>
<text transform="translate(651.8 842.9) scale(1 1.08)">1.10</text>
<text transform="translate(651.8 819.2) scale(1 1.08)">1.15</text>
<text transform="translate(651.8 795.4) scale(1 1.08)">1.20</text>
<text transform="translate(651.8 771.6) scale(1 1.08)">1.25</text>
<text transform="translate(651.8 747.9) scale(1 1.08)">1.30</text>
<text transform="translate(651.8 724.1) scale(1 1.08)">1.35</text>
<text transform="translate(651.8 700.3) scale(1 1.08)">1.40</text>
</g>
<path d="M646.2 886.30h2.5M646.2 862.52h2.5M646.2 838.75h2.5M646.2 814.98h2.5M646.2 791.20h2.5M646.2 767.42h2.5M646.2 743.65h2.5M646.2 719.88h2.5M646.2 696.10h2.5" stroke="#1c1c1c" stroke-width="0.8" fill="none"/>
<text class="ql" transform="translate(684.5 791.2) rotate(-90)" text-anchor="middle">q</text>
<g class="ti"><text x="573.0" y="712.4" font-style="italic">P</text><text class="sub" x="580.1" y="708.3" textLength="4.4" lengthAdjust="spacingAndGlyphs">2</text><text class="sub" x="580.1" y="715.2" textLength="4.4" lengthAdjust="spacingAndGlyphs">2</text><text x="585.4" y="712.4">(</text><text x="590.2" y="712.4" font-style="italic">q</text><text x="595.8" y="712.4">,</text><text x="600.0" y="712.4" textLength="7.4" lengthAdjust="spacingAndGlyphs">Λ</text><path d="M601.7 704.4q0.9 -1.3 1.8 -0.5t1.8 -0.5" fill="none" stroke="#1c1c1c" stroke-width="0.8"/><text x="608.4" y="712.4">)</text></g>
<text class="lg" transform="translate(625.2 880.0) scale(1 1.2)" text-anchor="end" textLength="44.6" lengthAdjust="spacingAndGlyphs">NoNusSet</text>
<g class="xl"><text x="479.6" y="910.8" font-style="italic" textLength="10.8" lengthAdjust="spacingAndGlyphs">M</text><text class="sub" x="490.9" y="913.1" textLength="24.4" lengthAdjust="spacingAndGlyphs">disk;fit</text><text x="519.8" y="910.8">[</text><text x="523.4" y="910.8" font-style="italic" textLength="10.8" lengthAdjust="spacingAndGlyphs">M</text><circle cx="538.0" cy="911.4" r="2.4" fill="none" stroke="#1c1c1c" stroke-width="0.55"/><circle cx="538.0" cy="911.4" r="0.6" fill="#1c1c1c"/><text x="541.2" y="910.8">]</text></g>
<g class="xl yl" transform="translate(357.6 791.0) rotate(-90)"><text x="-33.5" y="0" textLength="6.8" lengthAdjust="spacingAndGlyphs">Δ</text><text x="-26.4" y="0" font-style="italic" textLength="11.4" lengthAdjust="spacingAndGlyphs">M</text><text class="sub" x="-14.4" y="2.4" textLength="13.0" lengthAdjust="spacingAndGlyphs">disk</text><text x="1.2" y="0" textLength="4.8" lengthAdjust="spacingAndGlyphs">/</text><text x="8.0" y="0" font-style="italic" textLength="11.8" lengthAdjust="spacingAndGlyphs">M</text><text class="sub" x="21.0" y="2.4" textLength="12.2" lengthAdjust="spacingAndGlyphs">disk</text></g>
</g>
</svg>
</body></html>
